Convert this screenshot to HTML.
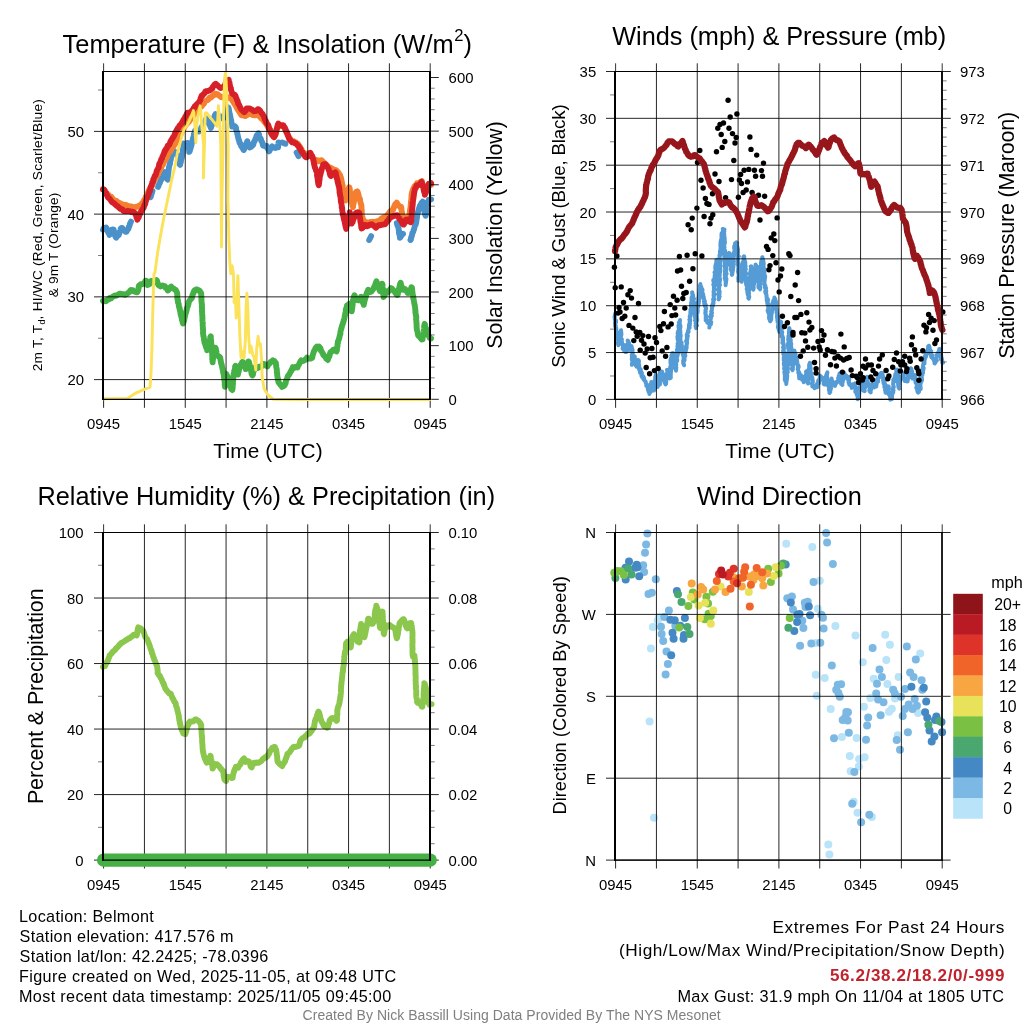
<!DOCTYPE html>
<html><head><meta charset="utf-8"><title>Belmont Meteogram</title>
<style>html,body{margin:0;padding:0;background:#fff;}svg{display:block;}text{font-family:"Liberation Sans",sans-serif;}</style>
</head><body>
<svg style="will-change:transform" width="1024" height="1024" viewBox="0 0 1024 1024">
<rect width="1024" height="1024" fill="#fff"/>
<g id="p1">
<path d="M103 229.8L103.7 228.3L104.5 228L105.4 227.6L106.2 227.5L106.6 228.3L107.2 230.1L107.5 230.6L108.1 232.4L108.5 232.9L109.1 233.6L109.5 235L109.6 234.1L110.2 233.8L110.6 232.5L111.2 231.2L111.7 229.8L112.3 229.4L113.7 229.7L113.9 230.9L114.2 231.7L114.6 233.3L114.7 234.3L115 235.7L115.4 236.2L115.7 237.2L116.2 237.6L116.9 236.4L117.7 235.8L118.8 234.9L119.2 233.5L119.5 232.7L119.9 231.5L120.3 230.9L120.6 229.5L120.8 228.4L121.4 227.9L122.3 227.9L122.9 229.2L123.6 229.8L124.5 230.2L125.3 231.8L126.1 231.9L126.7 231.6L127.1 230.1L127.8 229.5L128.5 228.5L128.8 226.9L129.2 226.4L129.9 224.5L130 223.5L130.5 222.7L131 221.6" fill="none" stroke="#4a90c9" stroke-width="5.9" stroke-linejoin="round" stroke-linecap="round"/>
<path d="M150.6 197.2L152.5 191" fill="none" stroke="#4a90c9" stroke-width="5.9" stroke-linejoin="round" stroke-linecap="round"/>
<path d="M158.1 186.9L158.4 186.2L158.8 184.8L159.6 183.3L159.9 182.8L160.2 181.5L160.9 180.5L161.4 179.2L161.6 178.1L162.2 177.9L162.8 176.8L163.3 175.7L163.7 174.2L164.5 173.7L165 172.1L165.3 173.3L165.6 175L166 176.2L166.6 176.4L166.8 177.9L167 178.9L167.7 179.5L167.7 178.3L167.8 178.1L167.8 176L167.9 175.4L168 173.8L168.3 173.6L168.4 171.8L168.6 170.4L168.7 169.3L168.8 169.1L168.9 167.5L169.3 165.9L169.4 165.8L169.9 163.7L170.1 163.5L170.1 162L170.3 160.6L170.8 159.7L171 158L171 157.8L171.3 156.2L171.4 155.7L171.7 153.5L171.9 152.7L172.6 151.9L173.6 151.6L174.6 151.5L175.2 152.3L175.7 153.3L176.5 154L177 154.8L177.5 156L177.8 157.6L178.3 158L178.7 159.1L178.9 160L179.3 161.2L179.2 163.1L179.6 164.2L180.1 164.9L180 163.6L180.4 162.8L180.8 162.4L181 160.4L181.4 159.2L181.5 158.6L182 157L182 156.5L182.3 155L182.5 153.7L182.6 153.2L182.8 151.8L182.7 150.1L183 149.2L183.2 147.9L183.4 146.9L183.2 145.8L183.6 145.1L183.7 143.5L184.7 143.9L185.8 143.5L186.7 143.2L187.7 143L187.8 144.2L188.2 144.8L188.3 146.4L188.4 147.7L188.8 148.2L189 149.7L189.2 151L189.2 151.9L189.7 151.1L190 150L190.5 148.7L190.9 146.9L191.1 146.5L191.5 145.2L191.6 143.8L192.1 142.7L192.1 141.8L192.5 140.9L192.6 140L192.9 138.9L193 138L193.5 136.9L193.9 135.6L193.9 134L194.4 133.4L194.7 131.7L195.1 130.5L195.9 130.6L196.7 130.8L197.7 131.1L198.7 131.4L199.4 130.2L200.3 129.4L201.1 129.3L201.4 127.4L202.2 126.3L202.5 126.2L203.2 124.5L203.5 123.5L204 123L204.8 122L205.3 121.1L205.7 120.1L206.3 118.5L206.7 119.6L207.4 120.8L207.9 122.1L208.6 122.4L209 123.7L209.6 124.9L210 125.5L210.4 126.7L210.8 128L211.1 127.4L211.6 125.7L211.9 124.8L212.1 124L212.5 123.2L212.8 121.4L213 120.4L213.1 119.5L213.6 118.8L214 117.7L214.6 115.9L215.1 115L215.5 114.1L215.8 116L216.4 116.1L217 117.1L217.9 119L218.5 118L219.4 117.3L220 116.7L220.9 116.5L221.6 117.5L222.4 118.5L223.3 118.3L223.5 117.4L224 116.1L224.8 115.3L225.4 114.4L225.6 112.7L226.2 112.3L226.6 110.8L227.3 109.8L227.8 109L228.4 107.4L228.5 108.4L228.9 108.8L228.9 110L229.3 111.9L229.3 112.3L229.7 113.6L230 115.4L230.3 116.2L230.3 116.6L230.6 118.1L230.8 119.5L231.2 120.5L231.4 122.1L231.3 122.5L231.9 124.1L232.1 124.6L232.2 126.5L233.2 126.4L234.5 125.9L235.2 126.7L235.7 127.1L236.1 128.3L236.1 129.4L236.3 130.6L236.9 131.8L237.2 132.4L237.2 133.7L237.6 134.8L237.9 136.3L238.2 137.8L238.5 138.9L238.6 139.5L239.2 140.6L239.3 141.8L239.7 143.2L240.3 143.4L240.9 144.9L241.1 146.1L241.9 146.8L242.2 147.5L243 148.8L243.8 150L244.2 148.8L244.7 147.9L245 146.9L245.4 146.3L246.1 144.9L246.3 143.8L246.8 143L246.9 142.1L247.3 141.2L247.7 143.2L248.4 143.7L248.7 145.1L249 146.2L249.6 147.5L250.1 147.2L251.1 146.8L252 145.9L253.1 144.8L253.3 144.3L253.6 143.4L254.1 141.7L254.6 141.1L255.1 139.9L255.4 139L256.1 137.8L256.4 136.3L257.1 135.1L257.8 134.5L258.4 133.2L258.8 134L259.1 134.7L259.3 135.8L259.8 137.4L260.4 138.5L260.8 138.7L260.9 139.9L261.3 140.7L262 141.9L262.5 143.1L262.8 144.8L263.2 145.7L264.3 146L265.3 146.3L266.7 145.9L267.1 147.4L267.6 148.5L268.2 149L268.7 150.6L269.1 151.3L269.8 150.2L270.2 149.2L271.1 148.6L271.4 147.3L272.2 146.4L273 146.9L274.2 147.4L275.2 148L275.9 147.7L277.3 147.2L278.1 147.3L278.2 145.5L278 145.2L278.4 143.6L278.5 142.5" fill="none" stroke="#4a90c9" stroke-width="5.9" stroke-linejoin="round" stroke-linecap="round"/>
<path d="M282.2 142.5L285.4 143.8" fill="none" stroke="#4a90c9" stroke-width="5.9" stroke-linejoin="round" stroke-linecap="round"/>
<path d="M296.6 152.5L298.5 156.2" fill="none" stroke="#4a90c9" stroke-width="5.9" stroke-linejoin="round" stroke-linecap="round"/>
<path d="M369.2 240L371.1 236.2" fill="none" stroke="#4a90c9" stroke-width="5.9" stroke-linejoin="round" stroke-linecap="round"/>
<path d="M396.8 223.1L397.2 224.6L397.4 225L397.7 226.1L398.3 227.1L398.6 228.3L398.7 229.7L399.1 231L398.9 231.8L399.1 233.6L399.5 234.7L399.7 235.7L399.9 236.9L399.9 237.7L400.8 236.7L401.5 235.4L402.2 234.6L403 233.8" fill="none" stroke="#4a90c9" stroke-width="5.9" stroke-linejoin="round" stroke-linecap="round"/>
<path d="M410.5 240L410.9 239.4L411.1 237.5L411.6 236.9L411.7 235.8L412.1 234.8L412.3 233.1L413 232.2L413.2 231.6L413.7 229.8L414.1 229.3L414.3 228.2L414.6 226.8L414.9 225.6L415.6 224.7L415.9 223.6L416.1 223L416.4 221.1L416.5 220.5L416.5 218.8L417 218.1L416.9 216.9L417.1 216.2L417.4 214.3L417.8 213.2L417.9 212L418.4 211L418.6 209.9L418.8 209.4L419.1 208L419.5 206.9L420 205.5L420.5 204.7L421.2 204.4L421.5 202.6L422.4 202.2L422.8 201.6L423.3 202.4L423.3 203.7L423.7 204.5L423.6 205.5L423.9 206.9L423.9 208L424 209L424.5 210.5L424.5 212L424.7 212.3L424.8 213.3L425.1 214.5L425.6 215.7L425.6 215.5L426.1 214.1L426.3 213L426.4 212.2L426.8 211.2L426.9 210.2L427.1 208.6L427.5 207.7L427.7 206.3L427.9 205.5L427.8 204.7L428.1 202.9L428.2 201.5L428.4 201.1L428.8 199.7L430 199.7L431.1 199.4" fill="none" stroke="#4a90c9" stroke-width="5.9" stroke-linejoin="round" stroke-linecap="round"/>
<path d="M103 189.1L103.8 189.5L104.5 190.7L105.1 191.7L105.9 192.4L106.7 192.9L107.6 194.6L108.3 194.7L109.3 196.2L110.2 196.4L111.2 196.8L112 197.8L112.5 198.4L113.5 199.9L114.3 200.3L115.5 200.7L116.4 200.9L117.2 201.7L118.4 202.5L119.3 203.2L120.4 203.3L121.6 204.1L122.5 204.4L123.6 205.1L124.8 204.8L126 204.9L126.9 205.8L127.9 205.8L129 206.3L130.4 206.5L131.5 206.5L132.6 207L133.6 207.2L134.8 207.5L135.8 206.9L136.8 206.7L138.1 206.7L139.2 205.5L140 205.3L140.8 204.5L141.8 203.5L142.5 203.4L143.1 201.8L143.7 201.5L144.1 200L144.8 199.4L145.4 198.4L145.7 196.9L146.2 196.4L147 194.5L147.2 193.6L147.7 192.9L148.4 191.6L148.6 190.7L149.3 189.9L150 189L150.4 187.9L151.1 186.3L151.7 186.2L152.3 185.2L152.7 183.8L153.2 183.1L153.7 181.4L154.3 180.5L154.9 179.4L155.3 178.5L155.8 177.7L156.3 177.2L157 175.4L157.4 174.6L157.9 173.3L158.6 173.3L159 171.7L159.4 170.3L160.1 169.5L160.8 168.3L161 168.2L161.7 166.3L162.2 165.1L162.7 165.1L163.3 163.8L163.6 162.4L164.1 161.8L164.7 160.8L165.2 159.2L166 159.1L166.5 157.9L167.1 156.8L167.4 155.6L168.1 154L168.5 153.3L169.1 152.8L170 151.5L170.6 151.2L171.2 149.5L171.6 148.4L172.2 147.5L173 147.3L173.7 145.9L174.3 145.3L174.7 144.2L175.6 143.3L176.1 142L176.4 141.3L177.1 140.4L177.9 138.9L178.2 138.5L178.9 136.7L179.3 135.7L180.1 135.4L180.4 134.4L181.3 133.3L181.6 132.1L182.1 130.6L183 130.3L183.4 129.6L183.9 128.5L184.6 126.8L185 125.9L185.7 125.4L186.4 124.3L187.1 123.9L187.9 122.5L188.7 122.1L189.3 121.3L190.1 120L190.8 118.5L191.5 117.8L192 117.6L192.8 116.3L193.7 115.5L194.3 114.6L195.1 114L195.6 112.9L196.4 111.7L197.3 111L197.9 110.4L198.8 109.2L199.4 108.3L200.1 107.7L200.8 106.6L201.6 106.2L202.4 105.3L203.3 103.8L203.9 103.7L204.7 101.9L205.3 101.5L206.1 100.5L207 100.2L208.1 99.7L208.7 98.7L209.8 97.4L210.8 97.6L211.5 96.9L212.5 95.8L213.7 95.5L214.3 94.5L215.4 93.7L216.2 94L217.4 94.2L218.4 95.2L219.1 95.7L220.4 96.4L221.3 97.2L222.7 97.4L223.5 97L224.6 97.8L225.8 97.1L227 98L228.3 97.2L229.2 98L230.3 98.2L230.9 98.3L232 99.5L232.5 100.9L233.5 101.6L233.8 102.7L234.4 103.7L235 104.1L235.6 105.8L236 105.9L236.6 107.1L236.9 108L237.5 109.1L238.1 110.1L238.9 111.1L239.4 112L239.9 112.8L240.5 113.7L241.4 115.2L242.2 115.4L243.6 115.4L244.7 116.1L245.5 116.1L246.4 115.1L247.5 115L248.3 114.2L249.5 114.1L250.5 114.1L251.5 114.1L252.6 115.1L253.8 114.6L254.9 115.4L256.3 115.2L257.2 114.7L258.4 115L259.1 115.7L260 117.1L261.1 117.4L261.6 118.7L262.4 118.9L263 119.8L263.8 120.9L264.4 121.8L265 122.4L265.7 123.5L266.3 124L267 125.3L267.7 126.6L268.3 127.7L268.9 128.9L269.4 129.3L270.2 130.1L270.6 131.6L270.8 132.9L271.7 133.7L272.1 134.9L272.4 135.6L273.2 136.4L274.2 135.7L275 135L275.9 134.1L276.1 132.3L276.3 131.6L276.5 131L276.9 129.6L277.2 128.6L277.4 126.7L277.8 126.4L277.9 125.1L279 124.9L280.1 125.6L280.9 126L282.3 125.9L283.4 126.8L283.9 127L284.4 128.3L285.1 129.3L285.5 129.7L285.8 130.9L286.6 132L287 132.7L287.3 134.1L288 135.6L288.4 136.2L288.8 137.4L289.4 138L290.4 138.9L291.2 140.5L291.6 140.8L292.9 141.9L293.9 141.3L294.9 142.3L295.8 142.5L296.6 143.3L297.7 143.6L298.5 144.9L299.2 146L299.5 147.2L300.3 147.1L300.7 148.6L301.5 149.3L302 150.3L302.8 151.8L303.3 152.6L304.4 152.8L305.1 154.4L305.8 154.9L306.4 155.3L307.6 154.9L308.3 154.1L309.2 153.4L310 155.1L310.9 156L311.7 156L312.6 156.8L313.4 158.4L314.4 159.1L315.2 159.8L316.3 160L317.1 160.1L318.1 161.2L319.2 161.2L320.2 160.4L321.5 160.3L322.3 161L323 162.2L324.1 162.5L324.8 163.4L325.5 164.3L326.3 164.7L327.2 166.3L328.1 166.3L329.2 167.9L330 167.5L330.9 167.9L332 168.5L333 169.1L334.2 170.2L335.3 170L336.3 170.5L337.1 171L337.6 171.9L338.6 172.7L339 174.2L339.8 174.7L340.2 175.7L340.6 177L341.1 178.5L341.3 178.7L341.2 180.6L341.8 181.4L341.9 182L342.1 184.2L342.5 185.2L342.7 185.7L342.5 186.7L342.9 188.4L343.2 189.6L343.3 190.8L343.4 191.7L343.4 193L343.6 194.3L343.9 194.8L343.9 195.8L344.3 197.5L344.4 197.9L344.9 199.5L345.2 200.2L345.6 200.4L345.7 199.7L346.2 198.8L346.4 197.5L346.4 196.1L346.9 195.5L346.9 193.7L347.3 193.3L347.6 191.8L348.1 191.4L348.2 189.3L348.6 188.7L349.1 187.3L349.4 187.5L349.5 188L349.8 189.3L349.9 190.3L349.8 192L350 193.3L350.3 193.6L350.3 195L350.6 196.7L350.6 197.3L350.8 199L350.9 199.1L351.1 200.6L351.7 202.3L352 203.5L352.3 203.9L352.3 205.7L352.8 205.8L353 207.3L353.1 206.3L353.2 204.8L353.4 204.1L353.8 202.7L353.9 201.6L353.9 201.2L354.2 199.6L354 198.5L354.3 197.9L354.4 196.2L354.8 194.7L354.8 194.4L355.6 192.6L356.1 191.9L357.3 191.3L357.7 192.4L357.9 192.8L358.4 194.3L358.5 195.5L358.8 196.1L359 197.7L359.7 198.7L360 199.1L360 200.7L360.5 202.4L360.6 202.7L360.9 204.1L361.3 204.8L361.4 206.6L361.5 207.8L361.5 208.4L361.5 209.6L361.8 210.4L361.7 212.3L361.8 212.7L361.9 214.3L362.1 215.9L362.4 217.1L362.4 217.2L362.7 218.7L363.4 219.7L363.7 220.7L364.3 222.1L365.4 222.6L366.5 222.2L367.6 222.7L368.6 222.8L369.7 222.2L370.6 221.9L371.7 222.3L373 221.7L374.1 222.4L375.2 221.6L376.5 221.9L377.7 221.1L378.6 221.7L379.7 221.3L380.2 219.9L381.1 218.9L382.2 218.6L383 217.5L384 217.2L384.9 217.2L386.2 216.1L387 216.1L387.6 214.9L388.2 213.8L388.9 213.3L389.8 212L390.2 211.2L391.4 210.5L392.3 210L393.3 209.6L393.4 208.1L393.9 207.5L394.4 205.9L394.6 205.5L395.3 204.1L396 203.9L396.7 202.6L397.2 203.4L397.9 205.1L398.2 205.2L399.1 205.9L399.9 206.7L401.1 206.8L401.3 208L401.5 208.3L401.4 209.9L401.8 211.4L401.8 212.2L402.1 213.2L402.1 214.1L402.5 215.9L402.6 216.5L403.2 218.2L403.2 218.4L403.8 220.4L404.3 218.8L405.3 218.4L406.1 217.8L407.1 217.1L408.3 217.2L409.2 217.8L409.5 216L409.4 215.1L409.7 213.9L409.7 212.6L410 212.2L409.9 210.7L410.3 209L410.5 208L410.5 207.3L410.7 205.9L410.7 205.1L410.8 204L411 202.6L410.9 201.7L411.2 200.1L411.4 199.6L411.4 197.8L411.5 196.6L411.5 195.8L411.6 194.7L411.9 193.1L412.1 192L412.5 191.7L412.8 189.9L413.2 189.1L413.7 187.8L414.1 187.7L414.5 186.4L415.1 185.8L416 185L417 183.4L418.1 183.9L418.9 183L420.1 182.2L421.1 181.6L421.9 181L422.1 182.9L422.3 183.3L422.8 184.4L422.9 185.4L423.3 187.3L423.8 188.4L423.8 189.4L424 190.2L424.4 191.1L424.8 192.5L424.9 193.9L425 193.4L425.7 191.7L426.1 190.5L426.6 189.8L426.7 188.9L427.2 187.2L427.7 186L428.1 185.1L428.5 184.9L429.1 184.2L430 183.9L431.1 185" fill="none" stroke="#f57f31" stroke-width="5.9" stroke-linejoin="round" stroke-linecap="round"/>
<path d="M103 189.5L104 189.7L104.8 190.7L105.2 191.8L105.7 192.8L106.3 193.4L106.9 195.2L107.3 195.6L108 197.4L108.5 197.8L109.3 198.4L110.1 199.4L110.6 200.1L111.5 201.6L112.2 202.2L113.2 202.8L114 203.2L114.7 204L115.9 205L116.7 205.8L117.6 206.2L118.7 207.3L119.4 207.9L120.4 208.9L121.4 208.9L122.4 209.4L123.1 210.8L124 211L125.1 211.2L126.5 211.1L127.7 210.8L128.7 211.1L129.8 211.1L131.1 211.8L132.1 211.6L133 211.8L134.2 212.6L134.9 212.8L135.4 214.1L135.7 214.9L136.2 215.6L136.5 217.4L136.9 217.9L137.4 219.7L137.7 218.6L138.3 218L138.9 217L139.1 215.4L139.6 214.9L140.3 213.1L140.6 212.2L141.2 211.5L141.9 210.3L142.3 209.5L143 208.6L143.7 207.7L143.9 206.6L144.4 204.9L144.9 204.6L145.3 203.6L145.5 202.1L145.8 201.3L146.3 199.6L146.8 198.6L147.2 197.5L147.6 196.5L148 195.7L148.3 195.2L148.9 193.3L149.1 192.4L149.5 191.1L150 190.9L150.2 189.3L150.4 187.8L150.8 186.9L151.4 185.7L151.4 185.5L152 183.5L152.3 182.3L152.7 182.2L153.2 180.8L153.3 179.4L153.6 178.8L154.2 177.7L154.6 176.1L155.2 175.9L155.7 174.6L156.1 173.5L156.4 172.2L156.9 170.6L157.2 169.8L157.7 169.2L158.3 167.9L158.7 167.4L159 165.6L159.1 164.4L159.5 163.3L160 163L160.6 161.5L160.9 160.8L161.1 159.5L161.9 158.6L162.3 157.2L162.5 156.5L163 155.5L163.7 154L163.9 153.6L164.5 151.7L164.8 150.6L165.5 150.3L165.8 149.3L166.8 148.2L167.2 147.1L167.8 145.6L168.8 145.4L169.2 144.7L169.7 143.7L170.4 141.9L170.7 141L171.3 140.4L171.8 139.2L172.4 138.7L173 137.2L173.6 136.7L174.1 135.7L174.7 134.3L175.2 132.7L175.7 131.9L176.1 131.6L176.6 130.2L177.4 129.2L177.8 128.2L178.6 127.6L179.1 126.5L179.8 125.2L180.7 124.6L181.3 123.9L182 122.6L182.5 121.7L183 120.9L183.5 119.7L184.1 119.2L184.7 118.1L185.4 116.5L185.9 116.2L186.6 114.4L186.9 113.7L187.6 112.7L188.7 112.8L190.1 112.7L190.9 112.2L191.8 110.7L192.6 110.7L192.9 109.7L193.6 108.2L194.5 107.7L194.8 106.3L195.8 105.4L196.5 104.7L197.6 103.6L198.4 103.3L198.8 102.3L199.5 101.4L199.7 100.9L200.5 99.8L200.6 98L201 97.5L201.6 95.7L202.3 95.7L203.2 94.1L203.8 94.1L204.7 93L205.4 91.5L206.4 91.1L207.2 91.3L208.5 90.7L209.4 90.4L210.4 90L211.5 88.8L212.3 88.6L212.8 86.8L213.6 86L214.2 85L214.9 84.2L215.7 83.7L216.6 84.5L217.3 85.2L218 85.9L218.8 86.6L220.1 87.7L220.9 88.1L222.2 87.3L223.2 87.2L224.1 87.2L224.5 85.8L225.1 85.2L225.3 84L225.9 82.7L226.2 81.4L226.6 80.2L227.7 80.5L228.7 79.8L228.9 81.7L229.5 82.6L229.5 83.3L229.8 84.6L230 85.7L230.3 87.4L230.9 88L230.9 89.6L231.2 90L231.4 91.2L231.9 92.4L232.1 93.5L232.8 93.9L233.8 94.7L234.8 94.8L235.5 95.9L236 97.3L236.5 98.5L236.9 99.9L237.1 100.3L237.7 101.2L238 102.8L238.3 104L239.1 104.8L239.6 106.1L239.9 106.8L240.5 108.1L241.1 109.1L241.8 110.1L242.6 110.7L243.1 110.9L243.8 112.1L244.5 112.2L245.3 111L246 110.1L246.6 108.5L247.4 108.4L248.4 108.5L249.5 108.4L250.6 109L251.4 109.4L252.7 109.9L253.7 111.2L254.7 111.1L255.7 111L256.8 110.4L257.8 109.3L258.5 109.3L259.5 110.2L260.2 110.8L260.7 111.9L261.7 113.3L262.4 113.7L262.9 114.9L263.4 115.6L264 116.7L264.6 118.5L264.7 119L265.5 120.6L265.9 120.8L266.3 122.6L266.8 123.2L267.3 124.2L268.1 124.8L268.6 126.2L269 127.5L269.2 128.7L269.7 128.8L270 130.4L270.6 131.3L270.9 132.4L271.6 133.9L272 134.8L273 135L273.6 136.7L274.2 137.2L274.4 136.4L275.1 135.6L275.2 134.3L275.6 132.9L275.9 132.6L276.2 131.6L276.4 129.8L276.8 128.6L277 128.3L277.4 127L277.5 126L277.9 124.5L278.3 123.5L279.3 124.5L280.3 125.3L281.1 125.1L282.5 125.2L283.5 125.4L283.9 126.9L284.7 127.4L285.1 128.4L285.5 129.6L285.9 130.3L286.4 132.2L287 132.5L287.5 134.4L287.7 134.5L288 135.6L288.5 136.6L288.8 137.9L289.5 139.6L290.3 139.9L290.9 140.9L291.6 141.6L292.3 142.3L293.7 142.3L294.7 143.1L295.8 143.1L296.4 144L297.3 145L298.3 146.2L298.9 146.2L299.2 147.9L300.1 148.7L300.6 149.1L301.1 151.1L301.9 152L302.5 152.3L302.9 153.1L303.7 154.6L304.6 155.6L305.1 156.5L305.7 157.2L306.4 157.4L307.4 156.8L308.4 155.4L309.1 154.6L309.9 154.2L310.4 152.7L311 154.3L311.4 155L312 155.8L312.3 157.3L313 158.6L313.3 159.5L313.3 160.4L313.8 162L313.8 162.3L314.1 164.2L314.3 164.8L314.7 166.7L314.7 166.8L315.2 168.3L315.7 169.1L316.1 170.8L316.4 171.3L317 172.5L317.1 173.5L317 175.2L317.2 176.6L317.5 176.9L317.5 178.2L317.9 180L317.8 180.5L318 182.2L318.2 182.4L318.3 183.9L318.8 185.3L318.9 184.3L319.2 182.5L319.1 182L319.5 179.9L319.6 179.1L319.7 178L319.8 176.5L320.1 175.7L320.5 174.3L320.7 173.3L320.8 172.9L321.3 171.4L321.3 170.3L321.7 169.7L322 168L322.6 166.5L322.7 166.3L323.2 164.5L324.1 164.2L325.5 164.1L326.2 165.6L326.7 165.9L327.6 167.2L328 168.2L328.6 168.7L328.8 170.3L329.4 171.3L329.7 171.7L329.7 173.3L330.2 175L330.3 175.3L330.8 175.9L331.8 174.8L332.5 174.6L333.4 173.9L334.4 172.9L335.3 172.4L335.8 173L335.9 174.8L336.2 175.2L336.4 176.8L336.8 178.4L337.3 179.5L337.3 179.6L337.5 181.2L338 182.3L338 183.3L338.4 184.7L338.7 186L338.9 186.4L339.2 187.7L339.3 188.9L339.5 189.8L339.5 191L339.6 192.8L339.9 193.3L340 195.2L340.2 195.5L340.5 197.1L340.7 197.6L340.7 199.5L341 200.8L340.8 201.2L341 202.2L341.5 203.8L341.6 204.7L341.8 205.9L341.7 207.4L342.2 207.8L342.2 209.5L342.2 210.3L342.4 211.3L342.6 212.8L342.9 213.5L342.8 214.8L343.3 215.8L343.5 216.9L343.9 218.4L343.9 219L344.3 220.6L344.7 221.2L344.8 223L345.1 223.6L345.3 225.5L345.5 226.2L345.8 227.1L346.2 228.9L346.2 227.7L346.6 226.6L346.6 226.2L347 225L347.2 224L347.5 222.1L347.5 221.4L348 220.7L348.1 219.3L348.4 218L348.6 216.7L349.1 216.3L349.2 214.7L349.7 214.1L349.8 212.1L350.2 214.2L350.3 214.3L350.6 215.8L350.8 217.2L350.9 217.8L351.1 219L351.2 220.8L351.5 221.2L351.5 222.5L351.8 223.6L352 222.4L352.7 222L352.9 220.6L353.6 219L354 218L354.3 217.4L354.8 216.1L355.1 215.3L355.5 214.3L355.9 213L356.5 212.6L357.8 212.2L359 212.8L359.3 213L359.5 214L359.5 215.5L359.6 216.6L359.9 217.3L360.1 218.5L360.3 220.4L360.3 220.7L360.5 222.2L360.9 223.1L361.1 225.2L361.2 226.1L361.3 227.4L361.6 228.5L362.1 228.1L362.7 228L363 226.4L363.9 225.2L364.8 224.9L365.8 225.1L366.8 226.3L367.8 225.9L368.8 225.5L369.6 224.7L370.6 224.9L371.8 224.2L372.4 224.8L373.2 225.3L374.2 226L375.1 227L375.8 227.7L376.6 227.2L377.7 225.9L378.7 225.2L379.8 225.1L380.7 225.3L381.9 224.6L383.1 224.5L384.1 224.1L385 224.2L385.9 223.2L386.7 221.9L387.3 221.1L388.1 220.4L388.7 220L389.3 218.4L390.4 217.5L391.1 217.2L392.1 216.6L393.1 216.3L394.3 215.5L395.4 215.4L396.3 215.6L397.2 215.3L397.8 216.7L398.8 217.8L399.3 218.2L399.8 219.5L400.7 220.1L401.3 221.2L402 222.5L402.4 223.6L402.9 224.2L403.6 224.6L404 224.2L404.4 222.9L405.2 221.4L405.4 220.8L406 219.8L406.9 219.4L407.7 220.2L408.6 221.4L409.9 221.7L410.7 222.2L411.3 220.9L411.4 219.8L411.2 218.3L411.3 217.1L411.5 216.7L411.7 215.7L411.8 213.9L411.8 212.9L412 211.9L411.9 210.9L412.2 209.3L412.3 207.9L412.2 207L412.5 206.7L412.6 204.9L412.8 203.7L412.6 203.2L412.9 201.9L413 201L413.1 199.8L413.4 198.7L413.5 197.4L413.8 195.8L413.8 195L414 194.2L414.2 192.1L414.4 192L414.7 190L415 188.8L415.6 188.4L416 187.4L416.2 186.2L416.7 185.4L417.9 185.2L418.7 184.9L420 184.4L420.6 182.9L421.6 182L422.2 183.9L422.4 185L422.8 185.5L422.9 186.4L423.5 187.6L423.6 188.9L423.7 189.9L424 191.5L424.3 192.2L424.8 193.5L424.9 194.7L425 194.2L425.5 193.5L425.9 192.4L426.4 190.8L426.9 189.6L427.2 188.6L427.2 187.5L427.8 187.3L427.9 185.6L428.4 184.9L428.8 183.7L430 183.8L431.1 183.1" fill="none" stroke="#d61f26" stroke-width="5.9" stroke-linejoin="round" stroke-linecap="round"/>
<path d="M103 300.9L104.2 300.7L105.2 301.3L106 301.1L107 300.3L107.9 299.3L109 299.4L109.8 298.1L111 298.4L112 297.3L113.2 296.4L114.1 296.1L114.9 295.4L116 295.8L117 295.2L118.3 294.5L119.3 293.8L120.2 293.7L121.6 294.1L122.6 294.4L123.8 294.2L125 294.8L125.9 294.2L127 294L128.1 292.9L129.1 292.1L129.6 291.9L130.2 290.7L130.9 290L132.1 290.1L133.1 290.4L134 291.3L135 291.6L136.2 292.3L137.2 292.2L137.6 291.5L138.1 290.7L138.5 288.8L138.6 288.2L138.7 286.8L139.1 285.4L139.7 285.3L140.8 284.2L141.9 284.4L142.9 283.7L144.2 283.9L144.8 282.9L145.1 281.4L145.5 280.8L146.1 280.8L146.2 281.9L146.7 283.3L147.2 284.1L147.5 285L148.6 284.6L149.7 284L150 282.9L150.6 281.3L151.2 281L151.9 280.9L152.6 281.2L153.4 282.1L154.4 281.2L155.4 280.7L156.4 280L156.9 280.5L157.3 281.8L157.6 283.5L158.2 283.8L158.4 285.1L159.2 285.5L160.5 286.4L161.5 285.9L162.5 285.5L163.7 285.9L165 286.1L165.4 287.7L166.4 287.7L167.1 288.5L167.8 290.4L168.6 289.9L169 288.6L169.6 288.1L170.4 287.2L171.2 286.6L172.3 288L173.3 288.4L174.2 289L174.8 289.6L175.7 289.8L176.3 290.9L176.8 292.3L177.2 293.2L177.3 294.9L177.4 295.4L177.2 296.4L177.3 297.5L177.5 299.4L177.9 300L178 301.5L178 302.5L178.6 303.7L178.8 304.5L178.8 306L179.1 307.1L179.6 307.8L179.6 309.5L180 309.7L180 310.8L180.5 312.7L180.5 313.8L181 314.7L181 315.7L181.2 316.3L181.8 318.1L181.9 319.5L182.1 320.5L182.6 320.9L182.6 322.1L182.9 323.5L183.2 323.4L183.4 322.8L183.8 321.2L184.1 320.6L184.3 319.5L184.6 317.9L184.9 316.3L185.2 315.3L185.3 314.9L185.6 313.5L186.1 312.4L186.2 311.3L186.6 310.5L186.7 309.1L187.1 307.7L187.6 306.9L187.8 306.1L188.3 304.6L188.5 303.6L188.7 302.7L189 301.4L189.4 300.8L190.2 299.9L191.1 298.4L191.8 298.3L192.3 296.4L192.3 295.6L192.7 294.3L193 293.7L193.6 292.9L193.7 291.6L194.7 290.2L195.6 290.3L196.2 289.5L197.3 289.4L198.6 290.2L199.3 290.3L199.9 291.2L200.3 292.2L201 292.9L201.3 294.4L201.2 295.4L201.5 296.8L201.3 298.4L201.6 299.6L201.4 299.9L201.5 301.6L201.6 302.1L201.8 304.1L202 304.5L201.8 306.3L202 307.2L201.9 307.7L202.1 309.2L201.9 310.9L202.2 311.9L202.1 313.1L202.1 314.3L202.3 314.8L202.4 316.6L202.3 316.9L202.5 318.1L202.4 319.2L202.4 320.4L202.5 321.6L202.8 322.8L202.7 323.8L202.7 324.7L202.7 325.9L202.9 327.6L202.8 328.7L203.1 329.4L203.1 330.9L203 332.5L203 333.3L203.3 334.9L203.3 335.9L203.7 336.8L203.8 337.6L203.9 338.5L204.1 340.3L204.4 340.7L204.5 342.6L205 343.5L205.1 344.2L205.5 345.5L205.9 346.5L206.4 348.1L207.1 348.7L207.2 350.3L207.5 349.5L207.6 348.4L208.1 347.4L208.2 346.3L208.3 344.9L208.6 344L208.8 342.4L209.2 341.6L209.6 340.8L209.9 339.8L210.2 339L210.3 337.2L210.8 336.3L210.8 338L210.7 339.3L211.1 340.2L211.2 341.6L211.1 342.4L211.3 343.9L211.6 345L211.6 346.2L211.7 347.1L211.7 347.5L211.7 349L211.8 350.7L212 351.6L212.1 352.8L212.1 353.2L212.3 355.1L212.2 356L212.3 356.7L212.4 358L212.2 359.2L212.5 360.2L212.6 362.2L212.6 361.3L212.8 360.5L213 359.3L213.1 357.5L213.1 356.6L213.5 355.5L213.6 354.1L213.6 353.2L214 352.6L214.1 351L214.2 350.1L214.4 348.6L215.4 347.8L215.9 348.8L215.8 349.4L216.3 351L216.4 351.4L216.6 353.2L216.8 354L217 355L217.6 355.7L218.4 356.5L219.5 356.7L220 357.4L220.3 357.6L220.3 359.2L220.7 360.1L220.8 361.3L221.1 363L221.2 364L221.7 364.4L221.9 366.2L222.2 366.9L222.3 368.1L222.8 369.4L222.8 370.3L223 371L223.3 373L223.6 374.2L223.7 374.6L223.9 375.7L224 377.6L224.3 378.6L224.3 379.9L224.5 380.6L224.6 381.2L224.7 382.8L224.8 384.1L224.7 384.6L225.1 385.8L225 386.7L225.1 386L225.4 384.4L225.4 383.3L225.5 382.2L225.4 380.8L225.6 380.5L225.8 378.6L226 378.3L226 376.3L226 375.1L226.2 373.9L226.5 374.4L227.1 376.1L227.6 376.6L228 377.8L228.5 378.6L228.6 379.7L229.2 380.6L229.3 382.3L229.8 382.9L229.8 384.1L230.1 385.4L230.7 386.9L231.1 387.1L231.2 388.9L232 389.7L232.3 390L232.3 389.8L232.6 388.6L232.7 386.8L232.5 385.6L232.8 385L233 383.9L233 382.8L233 381.5L233 380.6L233.1 379.6L233.4 377.8L233.3 376.6L233.6 375.9L233.6 374.1L234 373.6L234.1 372.1L234.4 370.7L234.5 370.1L235 369.1L235.1 367.8L235.1 366.5L235.6 365.8L235.6 366.2L236 368L236.3 368.6L236.7 370.5L236.8 370.6L237.2 372.1L237.6 373L238 374.6L238.1 372.9L238.6 371.9L238.8 370.7L238.8 370.2L239.1 369.3L239.4 367.3L239.6 366.5L240.3 366.1L240.7 364.5L241.4 364.3L242.1 362.3L242.7 361.8L243.4 363.4L243.8 364.6L244.3 364.9L244.4 366.6L245 366.7L245.4 368.1L245.7 369.1L246 369L246.3 368.3L246.9 367L247.2 366L247.3 365.6L247.8 364L247.8 363L248.3 362.4L248.5 361.5L249.1 362.3L249.2 364.2L249.7 364.5L249.7 365.6L250.4 366.9L250.6 368.7L250.8 369.1L251.3 370.6L251.2 371.8L251.5 372.5L251.6 374.1L252.2 375.1L252.4 375.5L252.4 375.3L253 374.7L253.1 372.9L253.4 372L253.9 370.6L254.2 370.1L254.5 369L254.7 367.5L255.7 367.3L257 367L257.9 367.8L259 366.7L259.9 366.8L261 366.7L262.2 366L262.8 364.3L263.6 364L264.8 364.1L265.5 364.8L266.5 365.8L267.4 366.5L268.1 364.9L268.9 364.2L269.6 363.4L270.3 362.3L271 361.6L271.9 361.6L272.9 360.3L273.7 360.9L274.3 361L275.1 362.4L275.8 362.7L276 364.5L276.3 365.8L276.1 366.2L276.3 367.2L276.7 368.8L276.8 369.7L276.9 370.9L276.8 372.4L277.2 372.8L277.2 374.5L277.2 375.4L277.4 376.3L277.6 377.9L278 378.6L277.9 379.8L278.3 380.8L278.4 381.9L279.2 383.2L279.7 383.6L280.5 385L281.4 385.3L281.9 386.9L282.9 386.1L283.8 386.2L284.7 385.1L285.1 383.8L285.6 383.4L285.8 381.4L286.3 380.3L286.4 380L286.9 378.9L287.3 377.9L287.9 376.1L288.3 375.5L289.1 374.9L289.5 373.7L290.2 372.5L290.7 371.3L291.4 371L291.7 369.5L292.5 369L292.8 367.1L294.2 368L295.2 367L296.5 367.4L297.5 367.5L298 365.9L298.5 365L298.9 364.7L299.7 363L300 362.2L300.6 361.2L301.2 360.3L302.6 361.1L303.5 360.7L304.9 360.1L305.6 359.3L306.2 358.9L307 357.7L307.6 358.1L308.5 358.7L309.6 358.4L310.6 358.6L311.8 358.1L312.3 357.6L312.5 355.8L312.9 354.7L313.1 353.9L313.4 352.9L314 351.4L314.4 350.3L315 350.1L315.4 348.3L315.9 347.6L316.9 346.6L317.9 347.1L318.9 346.5L319.4 347.1L319.9 348.2L320.5 348.4L320.9 350.3L321 350.7L321.7 351.5L322.3 352.7L322.9 353.5L323.4 355.3L324 355.5L324.8 356.4L325.5 357L326.3 358.7L327.3 359.4L327.9 360L328.2 358.6L328.8 357.3L329.3 356.5L329.5 355.7L329.7 354.8L330.2 353L330.8 351.9L331.7 351.5L332.4 351L333.3 349.6L334.4 349.5L335.5 350.2L336.5 351.4L336.9 350.4L337 348.5L337 347.6L337.4 346.7L337.5 346.1L337.5 344.3L337.9 342.9L337.8 342.1L338.2 341.1L338.5 340.2L339 338.7L339.3 337.9L339.5 337.3L339.8 335.4L340 334.8L340.4 333.8L340.4 332.1L340.5 331.4L340.9 329.9L341.1 328.9L341.5 328.1L341.7 327.3L342 325.8L342.5 324.4L342.8 323.9L343.1 322.6L343.7 321L343.7 320.4L344.1 319.4L344.5 317.7L344.6 316.8L344.7 316.3L345.2 315L345.1 314L345.6 312.5L345.8 311.3L345.8 309.8L346.1 308.6L346.3 308.3L346.7 307.3L347 305.6L347.7 305L348.6 304.3L349.2 303.8L349.8 304.4L350.2 305.2L350.3 306.6L350.8 308.4L351.2 308.8L351.6 309.9L351.7 311.3L352 309.9L352.1 309.1L352.2 307.8L352.4 306.7L352.5 305.4L352.7 303.8L352.7 303L352.7 302.2L353 300.1L353.2 300L353.6 298L353.7 296.8L354.2 296.3L354.5 295.3L354.6 295.6L355.1 296.9L355.7 298.1L355.8 299.1L356.8 300.1L357.3 300.1L358.1 300.2L359.1 300.2L359.7 299.3L360.5 297.9L361 296.8L361.6 298L361.8 299.3L362 300.2L362.5 301.8L362.9 302.5L363.5 303.8L363.8 304.8L363.7 303.5L364.2 302.7L364.4 301.6L364.8 299.9L365.2 298.7L365.4 297.7L365.4 296.6L366.1 296.4L366.1 294.7L366.7 294L366.9 292.6L367.4 291.9L367.7 290.9L368.2 289.8L369 291L369.5 292.1L370.3 292.1L371.4 291.4L372.3 290.2L373 289.5L373.7 288.1L374.2 287L374.5 286.3L375.2 285.5L375.3 284.8L375.6 283.3L376.1 282.5L376.5 281.3L376.7 281.7L377 283.4L377.5 284.4L377.6 285.1L378.2 286.4L378.4 287.3L379.1 288.1L379.2 289.3L379.8 290.9L380 290L380.4 289.1L380.8 287.8L381.1 286.8L381.7 286.3L381.7 285.4L382.1 283.7L382.6 284.6L382.6 285.3L382.5 286.7L382.6 287.3L382.8 288.3L382.9 290.3L383.1 291.1L383.2 292.2L383.1 293.5L383.3 294.8L383.6 295.5L383.6 297L383.8 296.3L384.4 296L384.8 294.7L385.3 293.7L385.6 292.4L385.9 291.5L386.6 291.3L387.8 292.3L388.5 291.3L389.1 290.6L389.8 289.7L390.5 289.3L391 288.1L392 288.6L392.7 290L393.4 290.3L394.2 291.4L395.2 292.1L395.5 293L396.3 294.1L397 295L397.6 295L397.8 294.3L398 292.9L398.4 291.9L398.5 291.1L398.9 289L399.2 288.2L399.3 287.1L399.7 286.3L399.9 284.7L400.1 284.1L400.6 282.8L400.5 283.2L400.9 283.7L401.1 285.4L401.6 286.3L401.8 287.4L401.9 288.9L402.3 289.7L403.4 289.9L404.3 289L405.2 289.2L406 290.4L406.7 291.2L407.2 292.1L407.8 293L408.4 293L409.2 291.6L409.8 290.9L410.3 290L410.9 288.7L411.4 288.2L411.5 287.1L412 287.9L411.9 289.1L412.2 289.4L412.1 291.5L412.5 291.9L412.5 292.9L412.7 294.7L412.9 295.2L413.3 297L413.2 298.2L413.6 299.2L413.8 300.5L414.1 301.5L414.1 302.5L414.4 303.7L414.6 304.9L414.8 305.4L414.9 306.4L415.1 307.4L415.2 308.7L415.3 310.2L415.5 311.7L415.4 312.8L415.7 313.7L415.9 315.1L415.9 315.8L416.3 316.5L416.2 318.3L416.1 319.4L416.4 320.9L416.3 322.1L416.4 322.7L416.6 323.3L416.6 325.1L416.6 326.5L416.6 327.2L416.8 328.7L416.8 329.4L417.1 330.7L417.5 331.5L417.7 332.7L417.8 333.7L418.2 335.5L419 336.2L419.6 336.6L420.3 337.8L421.2 338.8L421.8 339.6L422.6 339.3L422.5 337.9L422.7 336.6L423.3 336L423.4 335.1L423.8 333.7L423.8 332.6L423.9 331.5L424 329.9L424.1 329L424.2 327.5L424.1 326.3L424.4 326.1L424.5 324.4L424.7 323.9L424.9 324.4L425.2 325.7L425.5 326.8L426 328.4L426.1 329.1L426.4 329.7L427.1 331.3L427.4 332.2L427.4 333.3L428 335L428.6 335.5L428.9 336.1L429.5 337.3L429.8 338L431.1 338.5" fill="none" stroke="#45b045" stroke-width="5.9" stroke-linejoin="round" stroke-linecap="round"/>
<line x1="103.6" y1="63.3" x2="103.6" y2="71.5" stroke="#333" stroke-width="1"/>
<line x1="103.6" y1="399.4" x2="103.6" y2="407.8" stroke="#000" stroke-width="1" stroke-opacity=".85"/>
<line x1="144.43" y1="71.5" x2="144.43" y2="399.4" stroke="#000" stroke-width="1" stroke-opacity=".85"/>
<line x1="144.43" y1="63.3" x2="144.43" y2="71.5" stroke="#000" stroke-width="1" stroke-opacity=".85"/>
<line x1="144.43" y1="399.4" x2="144.43" y2="407.8" stroke="#000" stroke-width="1" stroke-opacity=".85"/>
<line x1="185.25" y1="71.5" x2="185.25" y2="399.4" stroke="#000" stroke-width="1" stroke-opacity=".85"/>
<line x1="185.25" y1="63.3" x2="185.25" y2="71.5" stroke="#000" stroke-width="1" stroke-opacity=".85"/>
<line x1="185.25" y1="399.4" x2="185.25" y2="407.8" stroke="#000" stroke-width="1" stroke-opacity=".85"/>
<line x1="226.07" y1="71.5" x2="226.07" y2="399.4" stroke="#000" stroke-width="1" stroke-opacity=".85"/>
<line x1="226.07" y1="63.3" x2="226.07" y2="71.5" stroke="#000" stroke-width="1" stroke-opacity=".85"/>
<line x1="226.07" y1="399.4" x2="226.07" y2="407.8" stroke="#000" stroke-width="1" stroke-opacity=".85"/>
<line x1="266.9" y1="71.5" x2="266.9" y2="399.4" stroke="#000" stroke-width="1" stroke-opacity=".85"/>
<line x1="266.9" y1="63.3" x2="266.9" y2="71.5" stroke="#000" stroke-width="1" stroke-opacity=".85"/>
<line x1="266.9" y1="399.4" x2="266.9" y2="407.8" stroke="#000" stroke-width="1" stroke-opacity=".85"/>
<line x1="307.73" y1="71.5" x2="307.73" y2="399.4" stroke="#000" stroke-width="1" stroke-opacity=".85"/>
<line x1="307.73" y1="63.3" x2="307.73" y2="71.5" stroke="#000" stroke-width="1" stroke-opacity=".85"/>
<line x1="307.73" y1="399.4" x2="307.73" y2="407.8" stroke="#000" stroke-width="1" stroke-opacity=".85"/>
<line x1="348.55" y1="71.5" x2="348.55" y2="399.4" stroke="#000" stroke-width="1" stroke-opacity=".85"/>
<line x1="348.55" y1="63.3" x2="348.55" y2="71.5" stroke="#000" stroke-width="1" stroke-opacity=".85"/>
<line x1="348.55" y1="399.4" x2="348.55" y2="407.8" stroke="#000" stroke-width="1" stroke-opacity=".85"/>
<line x1="389.38" y1="71.5" x2="389.38" y2="399.4" stroke="#000" stroke-width="1" stroke-opacity=".85"/>
<line x1="389.38" y1="63.3" x2="389.38" y2="71.5" stroke="#000" stroke-width="1" stroke-opacity=".85"/>
<line x1="389.38" y1="399.4" x2="389.38" y2="407.8" stroke="#000" stroke-width="1" stroke-opacity=".85"/>
<line x1="430.2" y1="63.3" x2="430.2" y2="71.5" stroke="#333" stroke-width="1"/>
<line x1="430.2" y1="399.4" x2="430.2" y2="407.8" stroke="#000" stroke-width="1" stroke-opacity=".85"/>
<line x1="94" y1="379.6" x2="430.2" y2="379.6" stroke="#000" stroke-width="1" stroke-opacity=".85"/>
<line x1="94" y1="296.87" x2="430.2" y2="296.87" stroke="#000" stroke-width="1" stroke-opacity=".85"/>
<line x1="94" y1="214.13" x2="430.2" y2="214.13" stroke="#000" stroke-width="1" stroke-opacity=".85"/>
<line x1="94" y1="131.4" x2="430.2" y2="131.4" stroke="#000" stroke-width="1" stroke-opacity=".85"/>
<line x1="98.1" y1="338.23" x2="102.6" y2="338.23" stroke="#444" stroke-width="0.7"/>
<line x1="98.1" y1="255.5" x2="102.6" y2="255.5" stroke="#444" stroke-width="0.7"/>
<line x1="98.1" y1="172.77" x2="102.6" y2="172.77" stroke="#444" stroke-width="0.7"/>
<line x1="98.1" y1="90.03" x2="102.6" y2="90.03" stroke="#444" stroke-width="0.7"/>
<line x1="430.2" y1="399.3" x2="438.8" y2="399.3" stroke="#000" stroke-width="1" stroke-opacity=".85"/>
<line x1="430.2" y1="388.57" x2="434.7" y2="388.57" stroke="#444" stroke-width="0.7"/>
<line x1="430.2" y1="377.85" x2="434.7" y2="377.85" stroke="#444" stroke-width="0.7"/>
<line x1="430.2" y1="367.12" x2="434.7" y2="367.12" stroke="#444" stroke-width="0.7"/>
<line x1="430.2" y1="356.39" x2="434.7" y2="356.39" stroke="#444" stroke-width="0.7"/>
<line x1="430.2" y1="345.67" x2="438.8" y2="345.67" stroke="#000" stroke-width="1" stroke-opacity=".85"/>
<line x1="430.2" y1="334.94" x2="434.7" y2="334.94" stroke="#444" stroke-width="0.7"/>
<line x1="430.2" y1="324.21" x2="434.7" y2="324.21" stroke="#444" stroke-width="0.7"/>
<line x1="430.2" y1="313.49" x2="434.7" y2="313.49" stroke="#444" stroke-width="0.7"/>
<line x1="430.2" y1="302.76" x2="434.7" y2="302.76" stroke="#444" stroke-width="0.7"/>
<line x1="430.2" y1="292.03" x2="438.8" y2="292.03" stroke="#000" stroke-width="1" stroke-opacity=".85"/>
<line x1="430.2" y1="281.31" x2="434.7" y2="281.31" stroke="#444" stroke-width="0.7"/>
<line x1="430.2" y1="270.58" x2="434.7" y2="270.58" stroke="#444" stroke-width="0.7"/>
<line x1="430.2" y1="259.85" x2="434.7" y2="259.85" stroke="#444" stroke-width="0.7"/>
<line x1="430.2" y1="249.13" x2="434.7" y2="249.13" stroke="#444" stroke-width="0.7"/>
<line x1="430.2" y1="238.4" x2="438.8" y2="238.4" stroke="#000" stroke-width="1" stroke-opacity=".85"/>
<line x1="430.2" y1="227.67" x2="434.7" y2="227.67" stroke="#444" stroke-width="0.7"/>
<line x1="430.2" y1="216.95" x2="434.7" y2="216.95" stroke="#444" stroke-width="0.7"/>
<line x1="430.2" y1="206.22" x2="434.7" y2="206.22" stroke="#444" stroke-width="0.7"/>
<line x1="430.2" y1="195.49" x2="434.7" y2="195.49" stroke="#444" stroke-width="0.7"/>
<line x1="430.2" y1="184.77" x2="438.8" y2="184.77" stroke="#000" stroke-width="1" stroke-opacity=".85"/>
<line x1="430.2" y1="174.04" x2="434.7" y2="174.04" stroke="#444" stroke-width="0.7"/>
<line x1="430.2" y1="163.31" x2="434.7" y2="163.31" stroke="#444" stroke-width="0.7"/>
<line x1="430.2" y1="152.59" x2="434.7" y2="152.59" stroke="#444" stroke-width="0.7"/>
<line x1="430.2" y1="141.86" x2="434.7" y2="141.86" stroke="#444" stroke-width="0.7"/>
<line x1="430.2" y1="131.13" x2="438.8" y2="131.13" stroke="#000" stroke-width="1" stroke-opacity=".85"/>
<line x1="430.2" y1="120.41" x2="434.7" y2="120.41" stroke="#444" stroke-width="0.7"/>
<line x1="430.2" y1="109.68" x2="434.7" y2="109.68" stroke="#444" stroke-width="0.7"/>
<line x1="430.2" y1="98.95" x2="434.7" y2="98.95" stroke="#444" stroke-width="0.7"/>
<line x1="430.2" y1="88.23" x2="434.7" y2="88.23" stroke="#444" stroke-width="0.7"/>
<line x1="430.2" y1="77.5" x2="438.8" y2="77.5" stroke="#000" stroke-width="1" stroke-opacity=".85"/>
<path d="M103 398.8L127.5 398.4L136.2 392.8L143.8 389.6L150 387.1L151 374L151.9 349L152.5 324L153.1 299L154 274L155 272.2L157.5 253.5L160 238.5L162.5 224.8L165 212.2L168.1 197.2L171.2 182.2L175 166L177.5 152.5L181.2 138.8L181.7 136.3L184.1 129.3L187.2 125.4L189.5 120.7L191.9 114.4L193.4 110.5L194.6 120.7L195.4 136.3L195.8 142.6L196.6 128.5L197.7 116.8L199.3 109.8L200.1 105.8L200.9 112.9L201.6 124.6L202.8 136.3L203.6 146L203.4 178L204.4 146L204.8 128.5L205.2 112.9L206.7 112.9L209.1 116L212.2 119.9L215.3 123.8L216.9 126.2L217.7 120.7L218.4 105.8L219.2 114.4L220 128.5L220.8 146L221.5 247L221.9 200L223.1 146L223.5 120.7L223.9 97.2L224.7 77.7L225.5 72.1L226.2 81.6L227 105.1L227.8 128.5L228.2 146L227.9 200L228.8 237.5L229.8 262.5L230.8 273.8L232.2 265.6L233.5 275L234.1 302.5L235.4 297.5L236.2 318L237.9 275.6L239.1 312.5L239.8 333.8L241 357.5L242.9 351.2L244.1 358.1L245.4 340L246 308.8L246.9 293.1L247.9 308.8L248.5 333.8L249.8 352.5L251 346.2L252.9 355L254.1 357.5L255.8 370L256.6 350L258.1 336.2L259.1 345L260.4 343.8L261.6 360L262.2 377.5L264.1 388.8L267.9 395L273.5 399.4L300 399.5L430 399.5" fill="none" stroke="#fbe258" stroke-width="2.9" stroke-linejoin="round" stroke-linecap="round"/>
<line x1="103" y1="71" x2="103" y2="400" stroke="#000" stroke-width="2"/>
<line x1="430" y1="71" x2="430" y2="400" stroke="#000" stroke-width="2"/>
<line x1="102" y1="71.5" x2="431" y2="71.5" stroke="#000" stroke-width="1.2"/>
<line x1="102" y1="399.4" x2="431" y2="399.4" stroke="#000" stroke-width="1.4"/>
<text x="84" y="385.1" font-size="14.9" text-anchor="end" fill="#000" >20</text>
<text x="84" y="302.37" font-size="14.9" text-anchor="end" fill="#000" >30</text>
<text x="84" y="219.63" font-size="14.9" text-anchor="end" fill="#000" >40</text>
<text x="84" y="136.9" font-size="14.9" text-anchor="end" fill="#000" >50</text>
<text x="448.6" y="404.8" font-size="14.9" text-anchor="start" fill="#000" >0</text>
<text x="448.6" y="351.17" font-size="14.9" text-anchor="start" fill="#000" >100</text>
<text x="448.6" y="297.53" font-size="14.9" text-anchor="start" fill="#000" >200</text>
<text x="448.6" y="243.9" font-size="14.9" text-anchor="start" fill="#000" >300</text>
<text x="448.6" y="190.27" font-size="14.9" text-anchor="start" fill="#000" >400</text>
<text x="448.6" y="136.63" font-size="14.9" text-anchor="start" fill="#000" >500</text>
<text x="448.6" y="83" font-size="14.9" text-anchor="start" fill="#000" >600</text>
<text x="103.6" y="428.9" font-size="14.9" text-anchor="middle" fill="#000" >0945</text>
<text x="185.25" y="428.9" font-size="14.9" text-anchor="middle" fill="#000" >1545</text>
<text x="266.9" y="428.9" font-size="14.9" text-anchor="middle" fill="#000" >2145</text>
<text x="348.55" y="428.9" font-size="14.9" text-anchor="middle" fill="#000" >0345</text>
<text x="430.2" y="428.9" font-size="14.9" text-anchor="middle" fill="#000" >0945</text>
<text x="62.49" y="52.7" font-size="25.4" letter-spacing="0.054" fill="#000">Temperature (F) &amp; Insolation (W/m</text>
<text x="454.3" y="40.9" font-size="16.6" text-anchor="start" fill="#000" >2</text>
<text x="463.6" y="52.7" font-size="25.4" text-anchor="start" fill="#000" >)</text>
<text x="213.33" y="458" font-size="20.8" letter-spacing="0.158" fill="#000">Time (UTC)</text>
<text transform="translate(42,371.29) rotate(-90)" font-size="13.7" letter-spacing="0.219">2m T, T<tspan font-size="9.0" dy="2.6">d</tspan><tspan dy="-2.6">, HI/WC (Red, Green, Scarlet/Blue)</tspan></text>
<text transform="translate(57.75,297.28) rotate(-90)" font-size="13.7" letter-spacing="0.174" fill="#000">&amp; 9m T (Orange)</text>
<text transform="translate(501.6,348.75) rotate(-90)" font-size="21.2" letter-spacing="0.042" fill="#000">Solar Insolation (Yellow)</text>
</g>
<g id="p2">
<path d="M615 314.4L615.3 313.5L615.1 315.4L614.5 316.8L614.5 317.3L614.6 316.7L615.1 320.5L614.8 318.9L615.5 322.6L615.5 321.2L616.1 320.6L616 322.3L615 322.4L615.3 326L615.1 325.9L615.8 325.9L615.8 325.4L615.3 326.8L616.3 328.4L615.9 329.9L616.2 329.5L616.8 331.9L616.2 332.2L616.7 334.2L617.1 332.6L617.6 332.7L617 336.1L616.7 335.8L616.7 337.3L617.9 337.7L618.1 337.5L618 339.4L618 339.6L618.5 342.4L618.1 342L617.7 343L618.6 344.9L619 342.9L618.5 345.2L618.1 344.5L618.4 342.4L618.4 344.2L618.6 341.3L619.1 343L618.7 340.5L619.5 341.5L620 340.6L619.3 338L619.6 339.1L620.5 335.4L619.5 334.9L619.7 335.1L620.3 333.4L619.6 333.3L620.2 333.1L621.2 332.8L620.6 331.8L621 330.3L621.4 334L621.4 334.9L620.8 334.1L620.5 335.8L620.5 334.3L620.8 335.5L621.1 335.9L620.7 337L621 338.7L620.9 341.5L621.9 339.4L621.4 341L621.7 340.9L622.6 345.2L622.3 343.9L622 343.1L622.6 344.5L623.5 344.9L622.6 348.8L623.5 346.4L623.8 346.7L624.2 351.1L625.2 350.5L625 349.8L625.4 352L626.3 352.1L626.2 349.1L627 351.4L627.2 349.9L627.3 348.8L626.7 347.1L627 344.4L626.7 344.6L627.1 345.5L628.3 343.7L628.4 345.1L628.6 341.8L627.7 340.5L627.8 340.5L628.6 344.1L629.1 343.2L629 345.3L628.4 345.5L629.8 346.7L629.8 346.3L629.2 348.3L629.6 349.1L630.7 348.3L630.5 350.1L631.6 346.6L631.4 346.2L632.5 349.6L631.4 350.5L632.6 350.6L631.8 351L631.5 349.7L632.7 353L632.1 354.9L632 355.5L632.6 353.6L631.8 354.8L631.9 356.7L631.9 356.9L631.8 359.6L632.1 358.6L632.5 361.2L632.3 362.1L632.4 361.3L632.5 360.1L632.4 361.5L631.8 364.8L632.2 363L633.2 362.6L632.8 361.6L633.3 361.9L632.9 360.3L633.3 358.3L634.2 358.5L634.1 358.7L634.8 356.7L634.6 356.4L634.6 357.9L634.7 358.1L634.9 360.5L635.4 361L635.9 359.3L635.5 362.8L636.1 360.4L635.2 362.4L635.3 362.4L635.5 364.9L636.6 366.6L636 365.1L637 362.1L637.6 364.6L637 363.8L637.5 361.2L638.6 361.9L637.7 360L638.3 360.4L638 361.1L638.9 360.7L638.8 363.1L638.2 363.5L639.2 365L638.6 367.7L639.7 368.4L638.9 366.4L639 369.2L639.5 367.4L639.8 371.3L640.7 369.4L640.1 372.8L641 372.6L640.7 370.8L641.9 373L641.4 375.7L642.5 375.9L642.1 376.9L642.3 377.6L643.2 376.3L643.6 379.4L643.5 377L644.1 378.1L643.8 378.6L644 379.5L644.7 380.7L645.6 381.3L645.5 381.6L645.5 381.8L645.7 382.5L646.7 385.4L646.3 385.8L647.7 385L647.9 387.1L647.8 389.4L648 388.8L648.7 391.4L648.5 391.6L649.4 391.5L649.3 391.1L649.1 390.9L649.4 394L649.8 390.9L649.7 392.9L650.9 391.4L650.3 388.9L650.4 389L650.4 388.1L650.7 389.4L651.8 387L650.9 387.8L651.1 384.6L650.8 383.9L651.6 383.6L651.4 382.8L651.3 382L651.6 383.3L651.7 382.6L652.3 384.2L652.9 386.2L653.3 387.5L653.5 389.1L653.2 387.7L654.2 387.8L654 390.5L653.2 390.6L654.5 389L654.4 388.9L653.7 387L654.3 387.4L654.8 386.6L654.6 386.1L654.9 384.5L654.3 381L654.3 381.6L654.4 382.7L655.1 381.1L655.3 380.5L655.2 377L655.8 379.2L655.5 377.5L655.8 374.8L656 375.7L655.3 376.6L656.3 377.1L656.5 381L656.3 379.4L656.4 381.4L657 381.9L656.9 380.5L656.4 382L657.4 383L657.3 382.6L656.7 384.4L657.7 386.9L658.1 384.8L658.2 384.8L658.5 382.7L659.4 382.3L659.9 384.5L658.8 381.8L660 383.1L659.5 379.5L659.3 381.4L659.4 379.1L659.4 378.1L660.6 375.8L660.5 376.5L660.7 376.5L659.8 376.4L660.3 372.1L659.7 373.2L660.4 371.7L660.1 371L660.5 373L660.5 373.3L662 371.5L662.5 374.6L662.8 373.6L662.4 374.7L663.6 376.2L663 376.3L663.2 375.6L663.2 379.5L663.7 380.6L663.9 378.7L664.5 379.2L664.6 383L665.6 383.2L665.5 384.4L666.1 383.7L666 381.5L666.1 382.3L666.3 382.3L665.8 379.1L666.8 378.6L666.2 378.7L666.1 379.5L667.2 376.8L666.9 376.1L666.8 375.7L666.4 374L666.6 376.2L667.1 372.6L667.8 375L667.3 370.7L667 369.8L667.5 370.2L667.6 371.7L668.3 374.9L668.8 373.8L668.6 375L668.8 375L668.6 375.5L670.1 375.7L669.7 378.5L670.5 377.6L669.7 377L670 377L670.8 377.8L670.7 373.7L669.6 375.6L670.8 373.9L670.4 371.2L670.2 374.1L670.9 373L671.1 369.8L670 368.6L670.6 369.9L671.2 369.3L670.9 368.7L670.6 367L670.1 367.1L670.4 366.9L671 363.6L670.4 362.6L671.1 363.6L670.4 360.3L671.1 361.6L670.9 359.3L671.3 357.7L670.9 358.7L671.9 358.6L671.9 357.2L671.4 355.5L672.7 356.6L672.2 353.2L672.8 355.1L673 352.9L673.5 356.3L673 353.5L673.3 355.9L673.9 355.8L674.2 358.7L673.9 357.4L674.7 358.6L674.6 359.1L673.9 362L674.2 363.5L674.6 361.3L674.3 363L675.1 365.9L674.5 364.5L674.7 367.6L674.7 364.7L674.8 366.8L676.1 369.6L676 370.7L676.3 367.2L675.4 368.8L676.3 364.4L676.3 365L676 364L675.8 361.9L676 362.5L677.1 360.8L677.2 360.4L676.4 362L677.2 359.7L676.2 359L676.7 360L676.6 357L677.7 354.9L677.1 357.2L677.7 353.3L676.8 352.6L678.1 352.6L677.9 354.4L677.3 351.1L678.2 351.7L677.3 351.3L677.4 348.7L677 349.8L678.3 348.5L678.3 345.3L677.4 346.3L678.4 347.4L677.6 343.8L677.7 344L678.4 341.9L678.3 343.3L678.3 342.7L678.1 340.1L677.7 339.4L678.3 337.5L677.6 339.4L677.6 335.9L677.4 337L677.8 337.9L678.6 337.1L677.8 332.7L677.6 333.6L678.5 332.6L677.9 331.7L678.5 331.9L678.8 331.8L678.8 328.1L679.1 328L678.8 327.5L679.1 326L678.5 325.4L678.5 327.2L679.1 324.1L679 326L679.2 322.2L679.7 323.1L680 320.1L679.4 322.9L679.9 324.1L678.9 322.4L679 322.8L680.3 325.2L680.3 325.1L680.2 326.2L679.4 328.3L680.5 326.5L680 329.3L679.5 329.1L679.5 329.2L679.7 331.6L680.3 330.8L679.5 332.1L680.4 332.4L680 333.2L680.7 335.4L679.7 334.4L680.3 337L680.7 336L680 339.2L680.4 338.3L680.4 341.8L680.5 341.1L680.7 341.2L681.6 344.4L681 341.9L681.7 342.8L680.8 346.3L681.5 346.8L681.7 347.8L681.9 345.7L681.4 348.1L682.4 350.3L681.8 349.9L682.3 350.3L682.1 350.2L682.7 353.5L682.2 352.6L683.2 355.3L682.5 352.7L683.6 356.9L683 354L683.7 356.2L683.7 357.9L683.7 356.8L683.7 357.9L683.3 361.2L683.9 359.3L683.1 361L683.6 361.7L683.2 362L684.1 365.3L683.2 363.2L684.3 360.3L684.6 359.8L684.3 360.7L684.5 359L684.3 359.3L684.4 358.8L684.5 357.1L684.1 357.1L684.8 354.7L685.3 356.1L685 352.9L685.1 351.8L684.7 352.3L684.8 351.6L685.5 349.2L685.8 348.6L686 350.6L685.8 346.9L685.9 347.4L686.6 345.6L686.6 348.3L686.5 346.7L685.9 346.6L686.4 345.7L687.1 341.8L687 344L686.1 340.9L687.1 339.3L687.4 339L687.4 337.7L687.1 340L686.8 336.6L687.3 336L686.7 334.7L687 336.9L687.9 335.9L687.3 334.7L687.4 332.9L688.2 331.4L688.7 331.4L688.4 332L687.9 331.6L688.8 328.4L689.2 327.1L689.6 327.6L688.9 327.6L689.1 324.4L689.7 323.1L689.9 323.1L689.8 325.3L689.9 323.2L689.6 319.8L689.4 319.6L690.3 319.9L690.2 321L689.8 317.5L690.6 315.9L689.7 316.4L690 315.6L690.2 315.7L690.8 313.4L690.9 313.7L690.3 314.8L690.5 310.8L690.4 312L691.6 311.8L691 308.9L690.5 309.6L691.4 307.6L691.6 307.2L692 307.6L691.1 307.5L690.9 305.2L691.5 303.2L691.1 304.6L691.1 302.9L692.4 300.4L691.5 301.5L692 300.8L692.5 298.2L691.8 297.9L691.5 299.4L692.6 297.9L691.6 297.7L692.7 295.3L692.8 294.5L692.1 292.3L692.2 292.6L692.5 296.2L693.1 297.4L693.2 295.8L693.1 297.3L693.6 298.5L692.9 299.7L694 298.8L694 298.8L693.3 300.5L694.1 304.1L694.2 302.4L694.5 303.2L693.7 306.3L694.3 306.3L694.5 308.2L694.3 308.5L694.7 309.3L694.4 309.6L694.7 308.7L694.3 310.8L694.2 312.7L694.4 310L694.5 314.4L694.9 312L694.6 312.4L695.6 315.6L695.7 316.8L694.9 317L695.4 318.7L696.1 319.8L695.1 320.5L696.3 321.6L695.3 319.4L695.3 319.5L696.4 323.5L696.2 324.3L696.2 323L695.5 323L696.5 324.2L695.9 325.9L695.5 326L696 328.1L696.1 325.7L697 325.6L696.9 325.3L695.8 323.7L696.4 324.3L696.4 323.2L696.7 320.5L697.2 319.2L697.2 318.7L696.1 318L697.2 320.3L696.2 317.6L696.9 318L696.6 316L696.9 316.6L696.8 316.2L696.9 312.5L697.5 312.8L696.7 312.6L696.7 312.4L697.7 311.6L697.6 309.1L697.4 308.4L698.2 306.4L698.3 305.4L697.4 305.5L698.5 305.7L697.9 306.4L697.8 303.9L698.4 304.3L698.8 303.1L698.3 301L698.2 302.3L699 301.1L698.5 299.1L699.4 298.9L698.6 297.6L699.8 295.9L699 295.4L699.8 296.8L699.1 293.2L699.3 293.1L699.8 291.6L699.6 291L700.6 292.3L699.5 292.5L699.6 289.4L700.9 290.2L700.6 288L700 288L700 285.5L700.4 284L700.6 287.3L701.3 286.9L701.4 287.6L700.9 288.9L701.5 290.2L702.5 289.7L702.2 291.8L702.1 290.5L702.7 293.9L702.9 293.9L703.2 294.6L703.1 294.5L702.8 296L702.7 296L703.8 297.9L703.7 296.8L703.6 298.4L704.1 299L704.4 301.9L703.9 301.6L704.9 301.3L704.7 304.4L704.2 303.5L704.6 305.2L705.9 304.9L704.9 305.9L705.7 307.3L705.7 307.7L706.2 308.1L705.6 310.6L705.4 310.3L705.7 311.4L705.3 313.1L705.7 310.2L705.6 312.4L705.3 313.3L705.9 315.2L705.8 314.2L705.7 317L706.7 316.9L705.7 318.8L706 317.2L705.7 320.3L706.7 320.5L706.9 320.6L707.3 322.6L708.2 321.6L709.3 322.9L709 321.6L709.2 321.7L709.8 323.4L710 323.8L709.5 324.5L709.8 325.1L709.3 327.5L709.8 324.8L709.9 325L710.2 324.8L710.6 322.9L711 324.1L709.9 323.2L711.2 322.2L710.2 321.6L711 317.6L710.2 320.5L711.1 316.9L710.5 315.7L710.7 317.4L711 314.1L711.8 315.9L710.9 315.5L711.6 314.3L711.7 313.9L712 312.9L711.2 311.5L711.8 310.9L711.8 310.7L712 307.4L711.8 306.1L712.3 305L712.4 304.6L712.6 305.2L712.9 305.9L712.3 305L713.1 303.1L713.5 303.5L713.3 301L714.3 298.8L713.9 300.3L713.1 299.4L714 299.9L713.6 299.3L713.8 296.5L714.4 293.9L714.1 295.4L713.6 295.6L713.7 293.2L713.9 293.6L713.5 291.5L713.8 291.2L714.4 289.3L714.4 289L713.9 287.6L713.9 289.6L714.2 288.1L713.7 285.4L713.7 285.7L714.2 285.7L713.3 284.6L714.5 283.1L713.4 281.3L713.3 280.1L714.6 281L714.3 280.9L714.6 279.4L714.3 278.7L714.6 277.8L714.7 275.4L714.8 275.6L715.1 273.4L714.5 272.4L715.4 275.1L715.4 272.1L715.8 273L715.6 270.1L715.4 270L715.5 269.2L716.1 270.4L715.3 268.2L715.4 265.6L716.6 266.6L716.8 265.3L715.7 264.3L716.6 265.7L717.2 263L716.5 260.8L717 260.4L716.4 259.8L716.3 263.3L716.5 265.2L716.6 265.6L716.7 263L717.7 264.7L717.8 265.2L716.9 268.4L718 269.5L718.1 267.2L718 270.5L717.9 272.2L717.6 273.1L718.3 270.1L717.3 273.5L718.5 272L717.8 275.4L717.6 276.7L718.1 274.3L718 277.2L718.1 278.4L717.7 279.7L718.1 279.8L718.5 279.7L718.1 282L719 282.8L718.5 281.6L717.8 285.2L718.7 285.4L718.2 285.3L719.2 287L718.7 285.7L718.5 288.8L718.4 288.8L718.8 290.4L719.1 288.8L718 289.5L718.6 291.6L719.2 293.6L718.1 294.2L719.2 295.1L718.9 293.6L719.3 296.5L719.1 297.7L718.7 295.2L719 298.8L718.6 299.4L719.6 296.6L719.2 297.5L719 294.8L718.7 296.2L719.5 294.3L718.5 294.8L719.5 291.8L719.3 293.6L719.7 291.3L719.1 290.8L718.8 288.4L718.8 289.6L719 288.3L719.1 287.3L718.8 284.6L720 285.1L718.8 285.4L719.7 282.6L719.5 282.6L719.4 280.5L718.7 283.6L719.9 280.8L719.5 279.1L719.9 278.9L720.1 279.5L719.9 279.5L719.2 275L719.1 274.7L719 273.4L719.7 275.9L719.5 275.4L720.2 271.1L719.8 271.6L719.1 273.1L719.3 270.7L719.9 271.4L720 268.4L719.7 266.7L720.4 269.2L719.4 264.6L719.5 265L720.4 266.4L720.3 262.2L720.3 264.1L720.1 264.4L719.3 260.2L720.3 262.6L720.2 259.2L720.1 260.3L719.4 257.7L719.7 256.1L720 255.5L719.7 254.6L720.3 253.3L720.4 253.2L719.5 255.3L719.8 254.6L720.8 253.6L719.9 251L719.9 252.2L721 250.2L720.5 248.2L721.1 248L720.9 245.8L720.4 244.7L721.1 245.9L720.4 246.3L720.6 243.7L720.5 242.3L721.6 241.8L720.7 241.6L721 242.5L720.8 242L720.8 240.9L721.8 237.3L721.6 236.8L721.4 235.7L721.7 238.1L722.7 237L721.5 233.7L722.7 232L722.6 232.1L723.2 230.3L723.4 230.9L722.8 228.8L724.1 230.2L723.5 229.5L724.5 229.4L724.1 229.9L723.6 233.2L724.3 231.7L723.5 232.1L724.3 234.5L723.8 234.2L724.3 237L724.6 237.3L723.8 236L724.6 238.2L724.6 237.6L724.7 239.5L724.8 242.4L724.4 239.8L725 242.4L725 242.4L724 245.5L724.3 243.6L724.3 246.1L723.8 246.6L724.5 247.4L724 249L725 250.4L724.4 250.6L724.5 251.5L724 252.8L725.3 252.1L724.7 253.1L724.8 251.8L725.4 253.4L724.3 253.7L724.4 257.4L724.2 255.3L725.1 256.5L724.2 258.9L725 259.4L725.2 258.5L725.4 261.8L724.3 260.2L725 262.5L724.7 261.8L724.9 262.7L725.2 266.4L724.6 266L725.4 265.2L725.5 269.1L725 267.8L725.6 269L725 271.5L725.6 269.9L724.8 270.7L725.1 274.1L725.7 274.6L725.7 275.1L724.7 274.6L725.9 277.1L725 275.8L725.5 276.4L725.4 276L725.3 278.5L724.7 277.9L726.1 281.2L726.1 281.5L725.9 283.3L726 280.7L725.7 282.4L725.8 283.2L725.6 285.2L725.8 281.7L725.7 281.7L726.3 280.3L725.5 280.9L725.2 279.9L726.4 278.8L725.5 277.8L725.9 275.7L725.4 274.8L725.7 275.1L725.7 273.7L725.5 274.1L726.6 273.6L726.2 272.9L725.7 272.4L726.1 270.9L726.4 269.8L726 268.1L725.9 268.4L726.2 267.9L725.7 266.1L726.9 264.9L726.5 265.1L726.2 266.3L726.2 264.6L726.1 261L727.1 261.7L726 260.7L726.7 261.3L726.3 258.5L727.6 259.7L726.6 257.3L727 257.9L727.5 257.8L727.9 255.7L727.9 255.8L728 253.9L728.4 254.7L729 253L729.4 253.2L729.8 256.2L729.5 258.5L729.7 257.1L730.1 259.7L730 258.5L729.9 259.6L730.3 259.7L730 261.6L730.1 261.4L730.8 264.4L730.5 263.5L730.1 263.8L730.2 265.6L730.9 264.5L731.5 266.2L731.5 269.1L731.8 267.3L731.2 270.9L730.7 268.3L731.6 270.9L732.2 272.8L731.8 274.4L731.9 273.3L732.3 273.6L731.9 274.3L732 274.9L732.5 272.4L731.8 271L732.3 271L732.6 271.5L733.2 269.1L732.5 268.9L733.4 266.9L732.8 268L732.3 265.2L733.5 266.5L733 262.8L733.6 264.3L733.5 264.7L733.7 261.7L732.7 260.3L733.3 260.4L733 258.3L733.7 259.2L733.4 260L733.9 255.4L733.6 257.6L733.6 256.4L733.2 254L734.5 254.4L734.4 252L734.2 252.6L734 252.2L734.4 252.8L734.6 249.7L734.1 247.9L735 246.9L734.2 246.3L734.9 248.2L735.4 247.4L735 243.5L736.4 244L736.6 243.4L736.2 242.4L736.5 244.3L737.2 242.9L737.1 243.9L736.6 246.7L737.4 247.8L737.3 247.2L737.1 245.7L738.1 249.7L737.3 250.7L738 249.1L737.8 252.6L737.7 253.3L737.4 251.9L738.1 252L737.6 255.4L737.9 255.9L737.7 254.2L737.9 255L738.8 256.3L738.2 256.4L738.2 258.2L738 257.8L737.7 261.6L738 260.1L737.8 261L737.9 260.8L738.5 262.9L737.8 265.1L737.7 264.2L738.8 264.4L738.3 268L738.8 266.1L738.2 269.2L738.2 270.9L738 271.7L738.5 269.6L738.4 270L738.8 271.3L739.1 273.4L738.3 272.9L738.7 273.5L739.1 274L738.6 276.5L738.3 278.2L738.5 278.5L738.7 277.9L738.5 277.8L738.3 280.8L738.5 279.2L738.3 278L738.7 277L738.7 274.5L738.7 274.3L738.6 275.5L738.8 273.4L739.8 274.1L739.8 273.7L738.8 270.5L738.7 271.3L739.7 269.2L739.4 269.7L739.8 267.2L740.1 266.8L739.9 265.4L739.2 267.5L740.2 267.1L739.3 265.2L739.5 266.6L739.8 268.1L739.5 268.6L740.5 268.9L740.8 271.3L740.7 270.8L740.4 273.3L740.4 271.4L741.2 275.3L740.5 273.1L741.4 276.2L740.3 275.5L740.5 278.5L740.7 279.8L741.5 277.3L741.6 279.3L741.7 281.8L741.1 278.9L742.1 279.5L742.2 279.7L742 279.5L741.9 277.2L741.1 277.4L741.7 275.8L742.5 273.5L742.3 272.3L742.3 274.6L741.8 272.8L742.8 272.3L742.3 270L741.7 269.6L742.2 268.2L742.2 267.1L742.8 268.5L742.3 266L742.8 266L743.5 264.8L742.7 266.2L742.6 264.1L743 264.3L743.4 263.3L743 262.1L743.7 260.5L744.1 261.2L743.3 258.2L743.7 257.1L743.4 256.6L743.7 257.9L744.2 256.3L744.1 258.5L744.2 258.1L743.9 258.3L745.2 262L744.1 262.7L745.4 262.9L744.2 263.4L744.8 263L745 263L745.6 266.4L745.3 268.3L745.4 266.4L744.9 266.7L744.7 270.1L745.8 269L745 271.1L746 273.1L745.1 273.3L746.1 274L745.4 272.5L746.2 273.9L745.6 275.6L745.6 277.5L745.5 275.1L746 278.3L746.5 279.4L746.6 281.1L746.1 280.2L745.7 280.2L746.3 280.1L746.6 281.2L746.3 285.2L745.9 282.3L746.5 283.7L747 283.7L747.3 287.9L747.3 287L746.7 288.8L747.2 288.6L747 289.5L747.6 291.8L748.1 289.9L747.3 291.8L747.8 292.3L747.4 292L747.7 294.3L748.7 296.9L748.7 297.9L748.9 297.3L748.8 295.9L748.8 298.8L748.3 298L749.3 296.8L748.9 295.3L748.5 296.8L748.1 293.2L749.1 293.5L748.3 293.5L748.8 292.4L748.9 291.4L749.2 290.1L748.6 288.4L749.7 289.1L748.7 289.5L749 285.7L749.4 285.5L749.4 285.9L749.1 285.2L749 284.2L749.7 281.6L749.5 280.8L749.7 283.2L749.9 281.8L750.3 278.6L750.7 280.2L749.5 279.9L750 276.4L750.9 277.2L750.7 274.7L750.8 273.6L750.1 274L749.9 274.1L750.2 272.2L751 271.9L751.3 271.8L751.4 270.8L751.5 271.3L750.6 270L750.9 269.2L751.4 268.7L750.7 266.3L751.7 269.4L751.7 266.6L751.6 267.6L751.6 271.3L751 272.5L751.9 270.7L751.3 272.2L752.2 273.6L751.3 272.1L751.3 276L751.5 275.8L751.7 277.2L751.9 275.8L752.6 278.2L752.4 280.1L752.9 277.7L752.1 279L752.4 282.7L752.9 280.1L752.1 284.1L752.9 283.2L752.7 283L753.4 284.8L753.5 286.4L752.5 286.1L752.8 289.1L753.4 286.5L752.9 288.6L753.4 289.7L753.4 288L752.9 288.2L753.4 285.1L753.7 288.2L753.2 284L754.1 283.7L753.6 283.8L753.7 283.3L754.1 284.1L754.8 279.6L754.3 281.7L754.8 281L754.5 279.6L754.2 277.4L754.9 279L755.1 277.4L754.4 276.9L755.1 275.1L755.1 273.7L755.1 273.1L754.5 272.1L755 273.9L755.3 270.6L755.1 269.3L755.4 268.1L755 270.2L755.8 267.7L756 266.4L755.6 264.6L755.9 264.9L756.6 266.6L757 266.6L757.1 268.4L756.1 267.5L756.9 271.6L756.7 271.5L756.9 272.7L756.5 271.9L757.8 271.9L757 271.7L757 273.4L757.9 274L757.6 274.7L758 278.2L758.1 276.3L758.4 280.2L758.3 277.4L758.7 281.4L758.1 279.2L758 281.6L759.1 282.8L759.2 281.9L758.5 284.9L759 284.3L759.2 284.8L758.4 285.9L758.5 287.6L759 287.8L759.5 287.7L759.4 287.5L760.1 289.4L760.2 286.6L759.8 288.5L759.5 285.1L759.3 284.5L760.2 283.5L760.3 284.1L760 283.9L760.1 283.4L760.2 281.3L760.5 280.2L760.5 281.4L760.7 278.8L760.7 280.7L760.4 277.1L760.5 279L760 274.4L760.6 276.2L761.1 274.2L761.4 272.9L761.1 271.6L760.2 270.9L760.3 271.6L761 269.5L761.6 269.5L760.6 267.9L761.5 270.1L760.7 265.7L761.6 265.8L762 266L761.5 264.6L761.8 264.3L761.2 265.2L761 263.8L761 262.6L761.5 262.7L761.3 260.7L762 261.4L763 259.5L762.3 257.2L762.4 258.3L762.5 258.1L763.3 260.7L762.7 262.9L762.7 262L762.7 264L763.7 262.4L763.6 265.4L763.1 264.2L763.4 267.3L763 267.2L763.7 267.1L763.8 269.6L763.3 270.4L763.6 270.8L764.4 269.2L764.4 273.3L763.7 270.2L763.5 274.8L763.4 275.3L763.7 275.4L763.7 273.9L764.6 274.4L764.2 278.5L764.8 279.2L765.2 276.6L764.2 280.4L764.9 278.2L764.7 279.8L764.7 280.1L764.2 284.4L764.7 284.8L764.5 284L764.6 284.5L764.8 286.4L764.8 287.4L765.4 285.7L765.3 288L766.1 288.2L765.2 291.5L766.3 291.3L765.5 289.9L765.6 290.3L765.4 292.8L766 293.8L766 292.4L766.6 295.8L766.5 296.1L766.9 298.7L767.2 298.4L766.7 297.6L766.8 301L766.9 299.5L767.1 299.3L768 299.5L767.6 304L767.2 303.5L767.5 302.8L767.3 303.1L768.3 306.6L768.5 304.5L768.3 306.3L768.3 308L767.9 310.5L767.6 310.4L768.9 310.3L768.6 313L768.2 312.3L769 312.1L769.1 313L769 314.6L769.3 314.3L769.4 315.9L769 317L769.2 319L769.6 319L769.8 318.8L769.6 318.3L770.7 320.6L770.3 321.3L770.8 319.4L770 320.9L770.6 319.4L771.2 319.6L771.4 315.4L770.8 317.8L771.5 314.2L770.7 313.9L770.8 313.5L771.9 313.4L771.5 310.9L771.5 313.7L772.1 310.7L771.9 311.4L772.5 308L772.5 308.1L772.4 306.8L772.4 306.4L772.5 304.3L772.4 305.7L772.4 303.4L773.4 303L773 302L773.9 300.7L773.8 302.9L773.4 300.5L774.6 300.5L774.4 297.5L774.8 298.4L775.3 298.9L775 301.1L775.6 300.7L775.1 302.4L776 301.6L776.1 304.5L775.4 305.1L775.4 303.5L776.1 305.6L775.9 306.8L776.5 308.6L775.4 308.8L776.2 309.1L776.8 309.7L776.5 312.3L776.6 311.5L776.8 313.6L777.2 314.1L777 312.1L777.5 314.9L777.8 316.6L777 315.2L777.1 318.3L777.3 316.2L778.3 318.9L777.4 320.2L778.4 320.2L777.6 321.8L778.2 322.2L779 323.9L778.9 322L778.3 324.3L777.9 327L778.3 324.9L778.5 325.6L779.3 327.6L778.9 327.9L778.3 328.2L779.5 331L779.6 329.6L778.7 329.6L779.3 331.7L779.3 332L779.5 330.7L779.9 329.2L780.2 329.9L779.1 328.1L779.9 327.7L780 326.5L779.7 327.6L779.8 326.5L780.6 325.2L780.2 325.8L780.3 324.8L779.9 322.2L780.8 321.5L781.2 322.4L781 323.6L781.5 325.9L781.5 326.5L781.4 328L781 326.9L781.9 327.4L782.1 328.5L781.1 328.8L782.1 333L781.7 332.7L781.6 334.4L782.2 332.2L781.4 335.2L781.5 336.6L781.9 334.9L782.4 336.1L782.5 336.2L783 337.7L783 337.8L783 341.9L782.6 338.9L782.6 342.1L782.5 342.6L782.4 343L783.3 343.7L783.3 343.2L783.6 344L783.8 348.3L783.9 347.3L783 347.3L783.7 348.7L784 347.9L783.5 351.8L783.7 351.3L783.1 350.5L783.4 354.3L784.2 352.4L784.4 352.5L784 357L783.7 357.7L784.2 354.9L783.8 357.3L783.8 359.3L783.7 360.3L784 358.2L784.4 359.1L784.4 362.7L784.5 362.2L783.8 363.2L783.9 364.5L784 365L784.3 365L784.8 365L784.1 368.9L784.4 369.3L785.2 368.6L784.2 367.9L785.3 368.8L784.8 371.3L784.3 371.8L784.4 372.8L785 373L784.7 373.9L784.8 373.6L784.9 377.4L785.3 378.2L784.7 379.3L785.5 379.4L785.7 379.8L785.3 380.9L785.3 379.7L785.2 381L786 381.4L786.6 381.4L786.2 382.6L786.3 384L786.5 380.3L786 381.7L787.1 378.6L786.6 380.4L786.9 378.2L787 377.9L787.2 375.3L787.3 376.1L786.6 374L786.5 375.8L787.1 372.7L786.7 371.8L786.6 371.4L786.8 373.6L787.8 372.1L787.2 370.1L787.6 370.9L787.7 369L786.9 368.2L787.9 368L786.9 367L787.3 364L788.2 365.2L787.9 362.2L788.1 364.7L788.2 363.1L788.2 362.5L787.9 360.3L788.2 360.8L788.3 358.1L788.5 358.2L788.5 355.8L788.6 357.7L787.6 357.1L787.7 353.7L788 353.1L788.1 355L788.4 353.4L788.1 352.9L788.7 351.7L788.9 351.4L788.2 347.7L788.6 349.9L788.2 348.1L788.9 348.1L787.8 346.1L787.9 343.8L789 344.2L788.8 343.6L788.4 341.8L788.5 343.5L788.9 340.5L788.2 339.6L789.1 339.5L789.1 340.2L788.3 338.9L788.3 338.6L788.5 335.6L789.6 335.2L788.6 336.5L789.2 335.7L788.9 333.3L789.8 332.6L789.9 330.5L789.7 329.6L789.3 328.1L788.9 332.4L789.3 332.7L789.1 331.7L789 333.3L790.1 333.9L789.5 336.4L790.3 336.1L789.3 336.7L789.9 338.9L789.8 338.5L790.3 338.1L790.2 340.1L790.8 340.2L790.2 342.9L789.8 343.1L790.8 342.8L790.5 344.4L791.2 345.1L791.1 343.1L790.6 344.3L791.5 348.1L790.4 347.7L791.1 346.4L790.9 350L791.4 348.9L791.6 349.7L791.4 351L792 352.8L791.9 353.7L791.4 355.6L791.9 355.3L791.4 354L791.8 357.4L792.2 356.3L791.3 357.8L792.4 357.2L792.2 358L791.7 358.4L791.7 360.5L792.7 363.6L791.6 361.8L792.7 362.1L791.9 363.9L791.6 364L792 365.3L792.9 365.6L791.8 369L792.2 369.5L792.5 370.1L792.1 368.3L792.8 369.4L792.6 369.4L793 367L792.5 368.8L792.9 365.4L793.1 364.5L793.4 362.9L793.6 364.2L793 364.9L793 361.3L792.8 361.7L793.9 361.4L793.5 361.2L793.2 358.4L794.1 360.2L794.2 358.3L794.5 356.3L794.8 356.9L794.1 354.8L794.9 353.8L794.1 355.1L794.7 352.9L795 353.6L794.4 350.6L794.4 351.7L795.2 354.2L795.6 353.9L795.4 354.7L795.4 356.6L796.3 357.3L795.6 357.4L796.6 357.5L796.9 359.9L796.9 360.4L796.9 361.4L796.4 361.5L797.3 361.9L796.9 360.5L797.5 364.3L797.1 362.7L797.2 363L798 367.3L798.3 365.6L798.3 365.2L798.7 367L797.7 369L798 368.4L798 369.9L798.8 372.1L798.3 373L798.5 371.4L799.3 372.6L799.1 374.3L799 376L799.2 377L800.1 376.6L799.2 378.3L799.6 377.2L800.9 375L801.8 377.2L802.1 376.5L802.2 378L802.1 379.9L803.4 380.4L803.6 379.2L803.9 379L803.4 380L803.7 382.3L804.4 380.7L804.2 378.9L804.6 378.5L804.6 379.6L805.3 377.7L805.2 378L805.4 375.4L806.1 376.4L806.8 375.8L807 375.7L806.9 374.1L806.1 371.3L806.2 374.8L807.3 374.6L806.7 374.3L806.7 376.2L807.9 375.7L806.7 376L807.2 379.7L808 378.7L807.1 378.1L807.3 381.6L807.8 383.2L808.5 383.2L808 383.5L807.6 379.8L808.3 380.6L807.9 378.8L807.7 380.6L808.7 380L809.2 377.1L808.9 376.1L809.1 377.2L808.2 373.1L808.4 374.6L808.7 371.5L809.5 373.8L809 370L809.7 371.2L808.6 369.5L809.5 371L809.4 369.2L809.1 366.8L810.1 366.6L809.1 366.6L809.2 364.3L809.7 365L810.1 364.7L809.9 362.7L810.4 363.4L810.1 365.6L810.5 367.7L809.9 368.2L810.7 368.3L810 370.8L810.7 368.3L810.3 372.7L810.4 371.2L811.2 373.7L811.1 374.2L810.4 372.4L811.8 376L810.6 373.8L811 378.1L811.1 377.8L812.3 378.5L812.4 377.8L811.5 377.6L812.5 378.7L812.9 381.9L812 383.1L812.1 382.7L812.2 384.6L813.4 385.9L812.3 386.4L813.6 386.9L814 386.7L814.6 388.1L814.4 385.7L815.6 387.3L815.8 385.5L816.6 384.8L817.2 387.3L817 383.8L817.7 383.5L817.8 382.4L818.8 383.4L818.2 380.8L819 383.1L819.4 379.3L819 379.4L819.8 378L819.8 380.6L820.3 375.9L819.6 375.6L820.7 376.8L821 376.5L821.4 377.7L822.3 379.5L823 379.6L823.7 380.4L823.6 378L823.8 382L823.7 382.9L823.6 383.9L824.2 383.7L824.1 382.9L824.5 383.7L824.3 384.6L825.7 384.6L825.8 384.3L825.8 384.4L825.8 380.7L825.2 380.5L825 379L826.4 381L825.7 379.6L826.5 379.3L826.6 377L825.8 377.4L826.2 375.8L826.4 374.7L827.4 372.4L826.9 375.1L827 377.1L827 377.8L827.5 378.8L826.7 376.6L827.1 380.1L826.9 378.3L828 382.1L827.3 380.6L828.1 382.4L828.3 383.5L827.8 382.3L827.6 384.8L828 383.9L829.2 386.2L828.9 387L829 388L828.8 386.2L828.6 386.8L829.1 388.1L828.9 390.3L830.3 391.9L829.5 393L829.5 390.7L829.8 391.2L830.4 390.5L830.6 388.3L831 388.5L831 386.5L831.1 386.5L831.2 388L831.1 385.1L830.3 383.9L831.7 383L831.4 383.9L831.6 381.5L830.9 380.4L832.2 380.8L831.9 380.7L831.6 378.5L831.8 382.3L832.4 383.4L833.2 383.1L833.4 384L834 383L834.9 382.6L835 386L835.5 384.1L836.6 382.8L836.2 382.1L837 382L837.8 381.8L838.5 379.4L838.5 381.8L838.1 377.8L838.7 377.4L839 379.1L838.7 375.9L839.5 375.4L839.4 375.7L839.5 373.4L840.1 374.3L841.1 374.1L840 373.5L841 375.7L841.3 378.1L841.4 375.5L841.6 377.9L840.7 377.3L841.6 378.3L840.6 379.3L841.9 380.9L841.7 380.1L841.4 381.9L841.2 384L841.5 382.7L842.4 384.9L841.4 382.3L842.3 383.5L841.5 382.5L842.7 382L842.1 381.1L842.8 380.9L842.3 380.7L843.5 379.7L843.6 377.4L843.8 375.9L843 376.8L844.1 373.9L843.4 373L844.4 373L844.7 375L845.8 375.8L846 375.4L845.9 377.2L846.7 376L847.5 378.5L847.9 379.3L848.4 377L848.9 377.7L849.3 379.5L848.5 382.3L848.9 380.8L849.1 382.6L848.9 382.2L849.3 384.8L849.5 384.6L850.3 384.6L851.2 386.3L851.1 385.1L851.8 387.9L852.6 384.3L853.8 385.8L855.1 383.4L854.6 384.1L855.3 386L855.2 388.5L855.7 389.2L856.3 387.6L856.4 389L855.3 391.8L855.6 389L856 390.8L857.1 393.9L856.5 393.4L857.3 395.3L857.3 394.8L856.7 394.5L857.7 396.7L858.1 398.7L858.6 396.6L857.5 399.2L858.3 395.5L858.6 395L858.1 394.7L858.7 395.1L858.2 394.6L859.1 392.7L859.3 393.3L858.5 391.2L859.6 391.3L859.7 388.4L860.3 390.1L859.4 387.9L860.6 386.2L860.1 388.4L861 384.8L861 384.5L861.2 385.4L860.7 382.4L861 381.8L861 381.5L861.8 383.4L861.6 384.8L863.1 385.5L862.6 386.8L862.9 385.4L863.3 385.6L863.8 386.9L863.7 390.9L864.5 391.1L864.5 390.3L864.7 390.9L864.2 389.3L864.5 386.5L865.3 387.1L865.5 387.4L865.3 383.9L864.6 384.4L865.8 382.6L865 380.7L865.3 382.7L865.2 380.1L865.7 381.2L866.9 377.6L865.8 380.5L867.1 376.8L866.5 379.1L866.7 379.4L867.2 379.6L866.9 379.6L867.3 380.4L868.2 383.6L867.9 384.7L868.8 383.7L868.7 383.8L869.5 386.1L868.5 385.3L869.6 387L869.8 387.1L870.1 390.2L869.3 390.1L869.7 391.4L870.7 392.4L870.2 388.8L871 389.9L870.5 387.7L871.4 386.6L871.7 386.4L871.5 386.3L872.1 386.8L871.6 386L872.3 384.1L873.5 386.2L874.1 387.5L874.2 385.6L875.4 385.9L875 385L876.1 386.6L876.3 386.4L876.7 383.1L876.3 384L876.2 382.8L876.5 379.8L877.4 379.4L878.2 381.6L877.8 378.1L877.7 378.6L878.6 377.3L879.3 377.3L879.7 374.9L879.1 375.3L880 374L880.7 373.2L880.7 373.6L881.7 374.2L881.6 372.7L882.6 375.4L882.4 372.9L882.4 375.8L882.4 374.2L883.6 378.4L882.6 377.4L883.5 377.5L883 380.1L884.2 379.6L883.4 380.2L883.5 383.3L883.6 381.4L884.7 381.5L883.9 382.1L884.1 384.7L885.2 384.1L884.4 387.2L884.8 386.3L884.5 386.7L885.8 387L885 390.3L886 391.7L885.5 392.7L885.9 390L886.1 391L886.8 387.9L886.4 390.5L886.7 389.2L887.4 386.2L887.5 387.1L888.7 386.6L888.7 388.1L887.9 390.6L888.3 389.1L888.6 392.4L889.4 392.2L888.3 393.8L889.3 395.1L890 393.6L890.1 396.3L889.6 395.3L890 396L890.3 395.7L890.3 399.7L890.9 399.3L891.7 399.3L891 399.1L892 398.6L892 396.9L892.3 394.1L892.2 393.9L892.7 392.1L892.4 392.1L893 391.4L893.2 392.6L893.3 389L893.5 390.6L893.2 389.4L892.5 389.5L893.3 387.1L893.1 387.6L893.8 387.1L893.1 384.2L893.2 382.5L893.4 381.4L894.2 381.4L893.3 379.9L894.3 379.7L894 379.7L894.6 381.1L894 379L895 377.6L895.3 377.9L894.8 377.7L895.4 373.9L895.7 376L895.9 373.9L896 374.7L896.5 371.3L896.3 371.1L897.3 371.7L896.4 371.8L896.4 369.8L897 371.1L897.1 369.4L897.3 373.1L897.8 372L897 374.4L897.9 373.1L898.1 377L897.6 375.3L898 378.3L897.4 376.6L897.6 379.1L897.5 379.2L898 380.5L897.6 382.4L898.9 381.6L898.7 380.9L898.9 383.2L898.8 385.2L898.3 386.3L898.1 383.5L898.6 387.8L899.3 388.6L898.9 387.7L899.1 383.8L899.3 385.6L899.1 384.1L899 382L899.4 382.1L899.6 379.6L899.1 379.8L900.2 380.7L899.7 377.9L900.2 376.8L900.4 378.9L900.3 377L901.6 377.1L902.1 376.4L902.1 376.3L903.4 373.6L903.8 375.9L902.9 375.1L904.3 378.2L903.7 378.1L904.8 380.9L904.8 380.7L905.1 379.1L905.4 380.6L906.5 380.8L906.3 381.2L906.5 380.7L907 381.2L907 380.3L907.5 381.5L907.8 380.6L908 376.9L908.3 375.9L907.9 374.8L908.9 377.6L908.7 374.4L908.9 373.6L909.5 373L909 374.1L909.9 370L910.6 372.1L910.2 371L911.3 369.3L910.9 368.2L911.4 369L911.7 370.9L911.1 369.4L912.2 371.9L911.9 372.2L911.7 374.1L912.1 372.7L911.8 372.3L912.9 375.8L911.8 374.7L912.6 376.2L912.5 378.6L912.7 377.9L913.8 378.3L913.7 376.4L914 376.9L915 375.1L914.7 376.4L914.9 379.3L915.3 377.5L915.3 380.4L915.3 380.7L915.3 379.5L915.6 382.7L915.8 381.2L915.8 382.1L916.9 384.7L917.3 386.4L916.9 387.1L916.3 387.9L916.9 385.8L917.5 389.2L917.1 386.9L917.9 390.4L917.6 392.1L917 389.2L917.2 389.8L918.2 392.7L917.7 390.1L918.1 391.1L919 391.8L918.9 391.1L919.3 388L919.4 386.6L920.7 388.9L920.4 384.9L919.8 384L920.2 385.5L919.9 383.9L920.9 381.2L920.7 383.4L921 381.2L921.6 381.1L921 379.4L922 380.5L922 378.5L921.1 376.2L921.6 377.5L921.1 377.1L922.3 375.2L921.3 375.5L922 374.2L922.4 373.7L922.2 373.8L923.1 372.9L922.7 369.6L922.5 368.6L923.4 369.9L923.3 369.3L923.7 367.9L922.9 367.4L922.9 366L922.9 366.2L923.5 363.1L924.3 361.6L924.5 363.5L923.6 362.8L924.4 362.6L924.6 359.9L925.3 357.7L925.3 357L924.8 356.3L925.9 356.8L925.9 355.3L926.1 356.1L925.5 354.7L926.6 352.9L926.7 352.3L926.6 354.2L927.6 353.7L927.1 351.2L927.9 351.2L927.7 350.9L927.9 350.5L928.2 346.4L928.8 345.7L929 345.7L929.7 348.4L929.7 347.5L929.8 349.3L929.5 351.8L929.5 351.2L929.9 353.4L931.2 350.9L930.8 353.4L931.4 355.2L931.1 356.8L931.1 354.4L932.2 355.1L931.6 357.4L932 356.8L933 358.8L933.1 358.7L933.7 359.2L934.2 361.4L934.7 362.7L934.7 362.5L935.4 362.4L934.6 363.5L935.8 361.8L936 359.2L935.8 360.9L936.8 360.5L935.9 358.8L936.7 356.9L936.4 355.1L937.1 355.8L937.2 354.5L937.9 355.3L938.2 352.2L939 352.3L939.4 354L938.5 351.7L940 350.2L939.7 349.1L939.2 349.1L939.5 350.2L940.3 352.1L940.9 353.4L940.2 355.2L940.8 354.4L941.2 355.7L940.7 356.2L940.7 358.5L940.8 359.3L940.7 356.2L941.6 357.8L941.7 358.2L942.3 361.2L942.3 363L942.9 362.7L942.5 362.8" fill="none" stroke="#559bd5" stroke-width="4.0" stroke-linejoin="round" stroke-linecap="round"/>
<line x1="615.6" y1="63.3" x2="615.6" y2="71.5" stroke="#333" stroke-width="1"/>
<line x1="615.6" y1="399.4" x2="615.6" y2="407.8" stroke="#000" stroke-width="1" stroke-opacity=".85"/>
<line x1="656.43" y1="71.5" x2="656.43" y2="399.4" stroke="#000" stroke-width="1" stroke-opacity=".85"/>
<line x1="656.43" y1="63.3" x2="656.43" y2="71.5" stroke="#000" stroke-width="1" stroke-opacity=".85"/>
<line x1="656.43" y1="399.4" x2="656.43" y2="407.8" stroke="#000" stroke-width="1" stroke-opacity=".85"/>
<line x1="697.25" y1="71.5" x2="697.25" y2="399.4" stroke="#000" stroke-width="1" stroke-opacity=".85"/>
<line x1="697.25" y1="63.3" x2="697.25" y2="71.5" stroke="#000" stroke-width="1" stroke-opacity=".85"/>
<line x1="697.25" y1="399.4" x2="697.25" y2="407.8" stroke="#000" stroke-width="1" stroke-opacity=".85"/>
<line x1="738.08" y1="71.5" x2="738.08" y2="399.4" stroke="#000" stroke-width="1" stroke-opacity=".85"/>
<line x1="738.08" y1="63.3" x2="738.08" y2="71.5" stroke="#000" stroke-width="1" stroke-opacity=".85"/>
<line x1="738.08" y1="399.4" x2="738.08" y2="407.8" stroke="#000" stroke-width="1" stroke-opacity=".85"/>
<line x1="778.9" y1="71.5" x2="778.9" y2="399.4" stroke="#000" stroke-width="1" stroke-opacity=".85"/>
<line x1="778.9" y1="63.3" x2="778.9" y2="71.5" stroke="#000" stroke-width="1" stroke-opacity=".85"/>
<line x1="778.9" y1="399.4" x2="778.9" y2="407.8" stroke="#000" stroke-width="1" stroke-opacity=".85"/>
<line x1="819.73" y1="71.5" x2="819.73" y2="399.4" stroke="#000" stroke-width="1" stroke-opacity=".85"/>
<line x1="819.73" y1="63.3" x2="819.73" y2="71.5" stroke="#000" stroke-width="1" stroke-opacity=".85"/>
<line x1="819.73" y1="399.4" x2="819.73" y2="407.8" stroke="#000" stroke-width="1" stroke-opacity=".85"/>
<line x1="860.55" y1="71.5" x2="860.55" y2="399.4" stroke="#000" stroke-width="1" stroke-opacity=".85"/>
<line x1="860.55" y1="63.3" x2="860.55" y2="71.5" stroke="#000" stroke-width="1" stroke-opacity=".85"/>
<line x1="860.55" y1="399.4" x2="860.55" y2="407.8" stroke="#000" stroke-width="1" stroke-opacity=".85"/>
<line x1="901.38" y1="71.5" x2="901.38" y2="399.4" stroke="#000" stroke-width="1" stroke-opacity=".85"/>
<line x1="901.38" y1="63.3" x2="901.38" y2="71.5" stroke="#000" stroke-width="1" stroke-opacity=".85"/>
<line x1="901.38" y1="399.4" x2="901.38" y2="407.8" stroke="#000" stroke-width="1" stroke-opacity=".85"/>
<line x1="942.2" y1="63.3" x2="942.2" y2="71.5" stroke="#333" stroke-width="1"/>
<line x1="942.2" y1="399.4" x2="942.2" y2="407.8" stroke="#000" stroke-width="1" stroke-opacity=".85"/>
<line x1="606" y1="399.4" x2="942.2" y2="399.4" stroke="#000" stroke-width="1" stroke-opacity=".85"/>
<line x1="606" y1="352.56" x2="942.2" y2="352.56" stroke="#000" stroke-width="1" stroke-opacity=".85"/>
<line x1="606" y1="305.71" x2="942.2" y2="305.71" stroke="#000" stroke-width="1" stroke-opacity=".85"/>
<line x1="606" y1="258.87" x2="942.2" y2="258.87" stroke="#000" stroke-width="1" stroke-opacity=".85"/>
<line x1="606" y1="212.03" x2="942.2" y2="212.03" stroke="#000" stroke-width="1" stroke-opacity=".85"/>
<line x1="606" y1="165.19" x2="942.2" y2="165.19" stroke="#000" stroke-width="1" stroke-opacity=".85"/>
<line x1="606" y1="118.34" x2="942.2" y2="118.34" stroke="#000" stroke-width="1" stroke-opacity=".85"/>
<line x1="606" y1="71.5" x2="942.2" y2="71.5" stroke="#000" stroke-width="1" stroke-opacity=".85"/>
<line x1="610.1" y1="375.98" x2="614.6" y2="375.98" stroke="#444" stroke-width="0.7"/>
<line x1="610.1" y1="329.14" x2="614.6" y2="329.14" stroke="#444" stroke-width="0.7"/>
<line x1="610.1" y1="282.29" x2="614.6" y2="282.29" stroke="#444" stroke-width="0.7"/>
<line x1="610.1" y1="235.45" x2="614.6" y2="235.45" stroke="#444" stroke-width="0.7"/>
<line x1="610.1" y1="188.61" x2="614.6" y2="188.61" stroke="#444" stroke-width="0.7"/>
<line x1="610.1" y1="141.76" x2="614.6" y2="141.76" stroke="#444" stroke-width="0.7"/>
<line x1="610.1" y1="94.92" x2="614.6" y2="94.92" stroke="#444" stroke-width="0.7"/>
<line x1="942.2" y1="399.4" x2="950.8" y2="399.4" stroke="#000" stroke-width="1" stroke-opacity=".85"/>
<line x1="942.2" y1="390.03" x2="946.7" y2="390.03" stroke="#444" stroke-width="0.7"/>
<line x1="942.2" y1="380.66" x2="946.7" y2="380.66" stroke="#444" stroke-width="0.7"/>
<line x1="942.2" y1="371.29" x2="946.7" y2="371.29" stroke="#444" stroke-width="0.7"/>
<line x1="942.2" y1="361.93" x2="946.7" y2="361.93" stroke="#444" stroke-width="0.7"/>
<line x1="942.2" y1="352.56" x2="950.8" y2="352.56" stroke="#000" stroke-width="1" stroke-opacity=".85"/>
<line x1="942.2" y1="343.19" x2="946.7" y2="343.19" stroke="#444" stroke-width="0.7"/>
<line x1="942.2" y1="333.82" x2="946.7" y2="333.82" stroke="#444" stroke-width="0.7"/>
<line x1="942.2" y1="324.45" x2="946.7" y2="324.45" stroke="#444" stroke-width="0.7"/>
<line x1="942.2" y1="315.08" x2="946.7" y2="315.08" stroke="#444" stroke-width="0.7"/>
<line x1="942.2" y1="305.71" x2="950.8" y2="305.71" stroke="#000" stroke-width="1" stroke-opacity=".85"/>
<line x1="942.2" y1="296.35" x2="946.7" y2="296.35" stroke="#444" stroke-width="0.7"/>
<line x1="942.2" y1="286.98" x2="946.7" y2="286.98" stroke="#444" stroke-width="0.7"/>
<line x1="942.2" y1="277.61" x2="946.7" y2="277.61" stroke="#444" stroke-width="0.7"/>
<line x1="942.2" y1="268.24" x2="946.7" y2="268.24" stroke="#444" stroke-width="0.7"/>
<line x1="942.2" y1="258.87" x2="950.8" y2="258.87" stroke="#000" stroke-width="1" stroke-opacity=".85"/>
<line x1="942.2" y1="249.5" x2="946.7" y2="249.5" stroke="#444" stroke-width="0.7"/>
<line x1="942.2" y1="240.13" x2="946.7" y2="240.13" stroke="#444" stroke-width="0.7"/>
<line x1="942.2" y1="230.77" x2="946.7" y2="230.77" stroke="#444" stroke-width="0.7"/>
<line x1="942.2" y1="221.4" x2="946.7" y2="221.4" stroke="#444" stroke-width="0.7"/>
<line x1="942.2" y1="212.03" x2="950.8" y2="212.03" stroke="#000" stroke-width="1" stroke-opacity=".85"/>
<line x1="942.2" y1="202.66" x2="946.7" y2="202.66" stroke="#444" stroke-width="0.7"/>
<line x1="942.2" y1="193.29" x2="946.7" y2="193.29" stroke="#444" stroke-width="0.7"/>
<line x1="942.2" y1="183.92" x2="946.7" y2="183.92" stroke="#444" stroke-width="0.7"/>
<line x1="942.2" y1="174.55" x2="946.7" y2="174.55" stroke="#444" stroke-width="0.7"/>
<line x1="942.2" y1="165.19" x2="950.8" y2="165.19" stroke="#000" stroke-width="1" stroke-opacity=".85"/>
<line x1="942.2" y1="155.82" x2="946.7" y2="155.82" stroke="#444" stroke-width="0.7"/>
<line x1="942.2" y1="146.45" x2="946.7" y2="146.45" stroke="#444" stroke-width="0.7"/>
<line x1="942.2" y1="137.08" x2="946.7" y2="137.08" stroke="#444" stroke-width="0.7"/>
<line x1="942.2" y1="127.71" x2="946.7" y2="127.71" stroke="#444" stroke-width="0.7"/>
<line x1="942.2" y1="118.34" x2="950.8" y2="118.34" stroke="#000" stroke-width="1" stroke-opacity=".85"/>
<line x1="942.2" y1="108.97" x2="946.7" y2="108.97" stroke="#444" stroke-width="0.7"/>
<line x1="942.2" y1="99.61" x2="946.7" y2="99.61" stroke="#444" stroke-width="0.7"/>
<line x1="942.2" y1="90.24" x2="946.7" y2="90.24" stroke="#444" stroke-width="0.7"/>
<line x1="942.2" y1="80.87" x2="946.7" y2="80.87" stroke="#444" stroke-width="0.7"/>
<line x1="942.2" y1="71.5" x2="950.8" y2="71.5" stroke="#000" stroke-width="1" stroke-opacity=".85"/>
<g fill="#000">
<circle cx="728.1" cy="100.2" r="2.7"/>
<circle cx="736.9" cy="114" r="2.7"/>
<circle cx="730.2" cy="117" r="2.7"/>
<circle cx="723.5" cy="123" r="2.7"/>
<circle cx="720" cy="124.5" r="2.7"/>
<circle cx="717.8" cy="128.2" r="2.7"/>
<circle cx="729" cy="128.2" r="2.7"/>
<circle cx="732.5" cy="133.6" r="2.7"/>
<circle cx="721.2" cy="134.5" r="2.7"/>
<circle cx="736.2" cy="137.4" r="2.7"/>
<circle cx="724.8" cy="141.5" r="2.7"/>
<circle cx="735" cy="143" r="2.7"/>
<circle cx="722.2" cy="147.4" r="2.7"/>
<circle cx="699.8" cy="150.5" r="2.7"/>
<circle cx="716.5" cy="151.8" r="2.7"/>
<circle cx="733.8" cy="160.5" r="2.7"/>
<circle cx="697.5" cy="162.4" r="2.7"/>
<circle cx="715" cy="174" r="2.7"/>
<circle cx="701" cy="180.2" r="2.7"/>
<circle cx="719" cy="181.5" r="2.7"/>
<circle cx="731.5" cy="179.6" r="2.7"/>
<circle cx="703.1" cy="188" r="2.7"/>
<circle cx="749.9" cy="137" r="2.7"/>
<circle cx="751" cy="149.4" r="2.7"/>
<circle cx="756.7" cy="155.1" r="2.7"/>
<circle cx="763.5" cy="163.1" r="2.7"/>
<circle cx="748.8" cy="169.4" r="2.7"/>
<circle cx="744.1" cy="170.2" r="2.7"/>
<circle cx="754.4" cy="170.2" r="2.7"/>
<circle cx="761.5" cy="170.6" r="2.7"/>
<circle cx="740.6" cy="174.4" r="2.7"/>
<circle cx="755.6" cy="176.2" r="2.7"/>
<circle cx="762.5" cy="176.2" r="2.7"/>
<circle cx="739.4" cy="180" r="2.7"/>
<circle cx="741.5" cy="183.5" r="2.7"/>
<circle cx="747.5" cy="181.9" r="2.7"/>
<circle cx="746.2" cy="190" r="2.7"/>
<circle cx="743.1" cy="192.5" r="2.7"/>
<circle cx="752.1" cy="192.5" r="2.7"/>
<circle cx="712.5" cy="193.8" r="2.7"/>
<circle cx="758.5" cy="195.2" r="2.7"/>
<circle cx="764.6" cy="196.2" r="2.7"/>
<circle cx="738.4" cy="197.2" r="2.7"/>
<circle cx="725.6" cy="197.8" r="2.7"/>
<circle cx="705.4" cy="198.4" r="2.7"/>
<circle cx="706.9" cy="203.5" r="2.7"/>
<circle cx="709" cy="204.4" r="2.7"/>
<circle cx="696.9" cy="208.1" r="2.7"/>
<circle cx="712.8" cy="214.8" r="2.7"/>
<circle cx="692.2" cy="218.1" r="2.7"/>
<circle cx="704.1" cy="216.5" r="2.7"/>
<circle cx="711" cy="218.1" r="2.7"/>
<circle cx="710" cy="223.8" r="2.7"/>
<circle cx="760" cy="220" r="2.7"/>
<circle cx="777.1" cy="217.9" r="2.7"/>
<circle cx="691.2" cy="229.8" r="2.7"/>
<circle cx="773.8" cy="234" r="2.7"/>
<circle cx="771.2" cy="237.9" r="2.7"/>
<circle cx="774.8" cy="240.6" r="2.7"/>
<circle cx="766.5" cy="246.5" r="2.7"/>
<circle cx="768.1" cy="249.4" r="2.7"/>
<circle cx="772.8" cy="255.6" r="2.7"/>
<circle cx="788.8" cy="253.8" r="2.7"/>
<circle cx="790" cy="255.6" r="2.7"/>
<circle cx="695.2" cy="253.8" r="2.7"/>
<circle cx="701.9" cy="256" r="2.7"/>
<circle cx="776" cy="262.8" r="2.7"/>
<circle cx="770" cy="265.6" r="2.7"/>
<circle cx="616.9" cy="256" r="2.7"/>
<circle cx="614.4" cy="267.2" r="2.7"/>
<circle cx="615.2" cy="287.8" r="2.7"/>
<circle cx="621.2" cy="286.9" r="2.7"/>
<circle cx="630.2" cy="290.6" r="2.7"/>
<circle cx="627.9" cy="294.8" r="2.7"/>
<circle cx="631.5" cy="298.1" r="2.7"/>
<circle cx="623.5" cy="302.5" r="2.7"/>
<circle cx="638.5" cy="303.5" r="2.7"/>
<circle cx="619" cy="307.5" r="2.7"/>
<circle cx="626.2" cy="308.1" r="2.7"/>
<circle cx="620" cy="311.9" r="2.7"/>
<circle cx="624.8" cy="316.2" r="2.7"/>
<circle cx="635" cy="317.5" r="2.7"/>
<circle cx="688.1" cy="224.8" r="2.7"/>
<circle cx="679.4" cy="256.5" r="2.7"/>
<circle cx="687.1" cy="255.2" r="2.7"/>
<circle cx="677.5" cy="271" r="2.7"/>
<circle cx="680.6" cy="270" r="2.7"/>
<circle cx="689.6" cy="281.2" r="2.7"/>
<circle cx="681.5" cy="286.2" r="2.7"/>
<circle cx="686.2" cy="292.5" r="2.7"/>
<circle cx="683.8" cy="293.5" r="2.7"/>
<circle cx="673.5" cy="296.2" r="2.7"/>
<circle cx="682.8" cy="298.5" r="2.7"/>
<circle cx="677.1" cy="300.2" r="2.7"/>
<circle cx="670.2" cy="304.6" r="2.7"/>
<circle cx="674.8" cy="308.1" r="2.7"/>
<circle cx="684.8" cy="308.1" r="2.7"/>
<circle cx="664.4" cy="311.5" r="2.7"/>
<circle cx="675.6" cy="315" r="2.7"/>
<circle cx="671.9" cy="315.6" r="2.7"/>
<circle cx="692.9" cy="268.8" r="2.7"/>
<circle cx="768.9" cy="269.8" r="2.7"/>
<circle cx="781.8" cy="269" r="2.7"/>
<circle cx="797.6" cy="272.5" r="2.7"/>
<circle cx="780.5" cy="276" r="2.7"/>
<circle cx="778" cy="280" r="2.7"/>
<circle cx="795.2" cy="285" r="2.7"/>
<circle cx="779.2" cy="291.9" r="2.7"/>
<circle cx="790.8" cy="296.5" r="2.7"/>
<circle cx="798.6" cy="300.6" r="2.7"/>
<circle cx="806.8" cy="312.8" r="2.7"/>
<circle cx="800.9" cy="314.4" r="2.7"/>
<circle cx="794.9" cy="317.5" r="2.7"/>
<circle cx="782.4" cy="316.2" r="2.7"/>
<circle cx="618.1" cy="313.1" r="2.7"/>
<circle cx="622.2" cy="318.5" r="2.7"/>
<circle cx="629" cy="325.4" r="2.7"/>
<circle cx="632.8" cy="328.1" r="2.7"/>
<circle cx="636.2" cy="331.9" r="2.7"/>
<circle cx="639.8" cy="332.5" r="2.7"/>
<circle cx="642.8" cy="335.6" r="2.7"/>
<circle cx="637.2" cy="336.2" r="2.7"/>
<circle cx="648.5" cy="336.5" r="2.7"/>
<circle cx="633.8" cy="340.6" r="2.7"/>
<circle cx="641.5" cy="340.2" r="2.7"/>
<circle cx="644" cy="344" r="2.7"/>
<circle cx="655" cy="337.8" r="2.7"/>
<circle cx="656.5" cy="342.5" r="2.7"/>
<circle cx="651.9" cy="348.5" r="2.7"/>
<circle cx="647.2" cy="349" r="2.7"/>
<circle cx="640.2" cy="350.2" r="2.7"/>
<circle cx="645.2" cy="353.1" r="2.7"/>
<circle cx="653.1" cy="357.2" r="2.7"/>
<circle cx="650.2" cy="357.8" r="2.7"/>
<circle cx="646.2" cy="367.5" r="2.7"/>
<circle cx="658.1" cy="368.5" r="2.7"/>
<circle cx="654.4" cy="370.6" r="2.7"/>
<circle cx="649.6" cy="373.8" r="2.7"/>
<circle cx="663.5" cy="323.8" r="2.7"/>
<circle cx="659.8" cy="326.5" r="2.7"/>
<circle cx="671.2" cy="324" r="2.7"/>
<circle cx="668.1" cy="326.9" r="2.7"/>
<circle cx="660.9" cy="330.6" r="2.7"/>
<circle cx="666.9" cy="347.5" r="2.7"/>
<circle cx="662.2" cy="350.9" r="2.7"/>
<circle cx="665.6" cy="356.2" r="2.7"/>
<circle cx="787.4" cy="322.8" r="2.7"/>
<circle cx="784.5" cy="326.5" r="2.7"/>
<circle cx="796.8" cy="317.5" r="2.7"/>
<circle cx="809" cy="322.1" r="2.7"/>
<circle cx="811.8" cy="327.5" r="2.7"/>
<circle cx="809.9" cy="330" r="2.7"/>
<circle cx="793" cy="332.5" r="2.7"/>
<circle cx="793" cy="335" r="2.7"/>
<circle cx="801.8" cy="332.8" r="2.7"/>
<circle cx="804.9" cy="333.1" r="2.7"/>
<circle cx="805.5" cy="340.9" r="2.7"/>
<circle cx="821.5" cy="330.6" r="2.7"/>
<circle cx="824" cy="335" r="2.7"/>
<circle cx="822.4" cy="340.4" r="2.7"/>
<circle cx="818" cy="341.5" r="2.7"/>
<circle cx="840.9" cy="334.1" r="2.7"/>
<circle cx="807.8" cy="347.2" r="2.7"/>
<circle cx="813.6" cy="348.1" r="2.7"/>
<circle cx="819.2" cy="346.9" r="2.7"/>
<circle cx="820.2" cy="350" r="2.7"/>
<circle cx="803.2" cy="350.9" r="2.7"/>
<circle cx="827.4" cy="349.8" r="2.7"/>
<circle cx="831.8" cy="351.5" r="2.7"/>
<circle cx="834.2" cy="351.9" r="2.7"/>
<circle cx="844.2" cy="346.9" r="2.7"/>
<circle cx="825.5" cy="355.2" r="2.7"/>
<circle cx="800.5" cy="356.2" r="2.7"/>
<circle cx="834.9" cy="358.1" r="2.7"/>
<circle cx="838" cy="356.2" r="2.7"/>
<circle cx="840.5" cy="358.1" r="2.7"/>
<circle cx="843.6" cy="360" r="2.7"/>
<circle cx="846.8" cy="358.5" r="2.7"/>
<circle cx="849.2" cy="357.5" r="2.7"/>
<circle cx="814.5" cy="362.5" r="2.7"/>
<circle cx="830.5" cy="364.8" r="2.7"/>
<circle cx="836.4" cy="366" r="2.7"/>
<circle cx="816.1" cy="368.8" r="2.7"/>
<circle cx="816.1" cy="373.1" r="2.7"/>
<circle cx="851.1" cy="370" r="2.7"/>
<circle cx="852.4" cy="375.6" r="2.7"/>
<circle cx="856.1" cy="376.2" r="2.7"/>
<circle cx="860.5" cy="373.8" r="2.7"/>
<circle cx="863" cy="366.2" r="2.7"/>
<circle cx="865.5" cy="368.1" r="2.7"/>
<circle cx="865.5" cy="359" r="2.7"/>
<circle cx="858.6" cy="382.5" r="2.7"/>
<circle cx="862.4" cy="380" r="2.7"/>
<circle cx="912.4" cy="336.9" r="2.7"/>
<circle cx="911.5" cy="344.8" r="2.7"/>
<circle cx="928.6" cy="314.4" r="2.7"/>
<circle cx="931.1" cy="318.1" r="2.7"/>
<circle cx="934.2" cy="320.6" r="2.7"/>
<circle cx="929.5" cy="322.5" r="2.7"/>
<circle cx="924" cy="325.2" r="2.7"/>
<circle cx="926.5" cy="327.8" r="2.7"/>
<circle cx="925.9" cy="331.9" r="2.7"/>
<circle cx="933" cy="330.2" r="2.7"/>
<circle cx="942.8" cy="311.9" r="2.7"/>
<circle cx="936.5" cy="340" r="2.7"/>
<circle cx="934.9" cy="343.5" r="2.7"/>
<circle cx="882.3" cy="354.9" r="2.7"/>
<circle cx="879.6" cy="359" r="2.7"/>
<circle cx="896.5" cy="353" r="2.7"/>
<circle cx="904.7" cy="356.2" r="2.7"/>
<circle cx="909.6" cy="358.2" r="2.7"/>
<circle cx="894.3" cy="359.5" r="2.7"/>
<circle cx="898.7" cy="361.7" r="2.7"/>
<circle cx="902.5" cy="361.7" r="2.7"/>
<circle cx="910.2" cy="361.2" r="2.7"/>
<circle cx="914.6" cy="349.7" r="2.7"/>
<circle cx="915.7" cy="354.9" r="2.7"/>
<circle cx="922.8" cy="350.8" r="2.7"/>
<circle cx="921.1" cy="359" r="2.7"/>
<circle cx="868.1" cy="365" r="2.7"/>
<circle cx="871.4" cy="365" r="2.7"/>
<circle cx="878.5" cy="366.1" r="2.7"/>
<circle cx="873" cy="370.5" r="2.7"/>
<circle cx="892.7" cy="367.2" r="2.7"/>
<circle cx="900.9" cy="365" r="2.7"/>
<circle cx="904.7" cy="365" r="2.7"/>
<circle cx="886.1" cy="370.5" r="2.7"/>
<circle cx="900.3" cy="371" r="2.7"/>
<circle cx="906.9" cy="368.8" r="2.7"/>
<circle cx="906.4" cy="371.6" r="2.7"/>
<circle cx="916.8" cy="367.7" r="2.7"/>
<circle cx="918.4" cy="371" r="2.7"/>
<circle cx="842.4" cy="372.1" r="2.7"/>
<circle cx="863.2" cy="377.6" r="2.7"/>
<circle cx="857.7" cy="378.1" r="2.7"/>
<circle cx="875.7" cy="373.8" r="2.7"/>
<circle cx="870.8" cy="377" r="2.7"/>
<circle cx="888.9" cy="375.9" r="2.7"/>
<circle cx="887.8" cy="378.7" r="2.7"/>
<circle cx="918.9" cy="373.8" r="2.7"/>
<circle cx="918.9" cy="380.3" r="2.7"/>
<circle cx="872.5" cy="379.8" r="2.7"/>
</g>
<path d="M615 251.2L615.2 249.8L615.4 248.9L615.5 247.9L615.8 246.8L616.4 245.5L617 245L617.4 243.6L618 243L618.5 241.6L619.3 240.5L620.1 239.9L620.7 238.9L621.6 238.6L622.3 237.6L623.2 236.6L623.8 235.5L624.4 234.6L625.2 233.9L625.8 233.1L626.5 231.9L627.1 231.2L627.4 230.1L628 229.3L628.6 227.8L629.3 226.8L629.8 226.3L630.5 225.3L631.2 224.5L632.1 223.5L632.5 222.3L632.9 221.4L633.3 220.3L633.8 219.6L634.1 218.3L634.5 217.3L635.1 216.5L635.7 214.9L636.1 214.2L636.5 213L637 211.8L637.5 211.2L638 209.8L638.7 209.3L639.2 208L640 207.4L640.6 206.4L641.1 205.1L641.6 204.4L642.3 202.9L642.6 201.9L643.1 201.1L643.7 199.9L644 198.9L644.5 198L645 197L645.3 195.9L645.7 194.4L645.8 193.7L645.9 192.6L645.8 191.2L645.8 190.2L645.9 188.7L646 187.6L646.1 186.4L646.1 185.3L646.4 184.4L646.6 183.6L647 182L647.2 181L647.4 179.7L647.8 179.2L648 177.8L648.1 176.4L648.4 175.4L648.8 174.2L649 173.7L649.6 172.1L650 170.9L650.5 170.6L651 169.3L651.3 168L651.7 167.3L652.3 166.2L652.8 164.8L653.5 164.4L654.1 163.3L654.6 162.2L655.1 161.1L655.7 159.8L656.2 159L656.8 158.2L657.4 157.1L657.9 156.4L658.5 155L658.7 153.8L659.1 152.7L659.5 152.1L659.8 150.7L660.3 150L661.2 149.4L662.4 148.9L663.4 148.2L664.1 147.7L664.9 146.8L665.7 145.7L666.3 145.2L667.1 143.7L667.5 142.7L668.3 142.2L668.8 141.4L670.1 141.4L671.1 141.5L672.1 141.4L673.3 142.4L674.1 143.3L674.9 144L675.9 144.3L676.6 145.1L677.4 146.1L678.2 146.5L678.7 145.9L679.4 144.6L680 143.9L680.8 143.1L681.6 142.1L682.4 140.9L682.8 141.8L683.1 143.3L683.5 144.2L684 145.3L684.2 146.4L684.7 147.7L684.9 148.6L685.4 149.4L685.9 150.7L686.3 151.9L687 152.6L687.5 153.6L688.1 154.7L688.8 155.5L689.8 156.3L690.9 156.8L692 156.3L692.9 156.3L694 155.2L694.9 155L695.8 155.5L696.7 156.5L697.8 157.3L698.5 157.9L699.6 158.2L700.4 159.5L701 160.4L701.7 161L702.5 162.2L703 162.8L703.8 163.7L704 164.7L704.4 165.6L704.7 167L704.9 168L705.4 169.3L705.5 170.7L706 171.8L706.2 172.4L706.5 173.8L706.9 174.5L707.3 176.1L707.8 176.7L708 178.3L708.4 179.2L708.7 179.8L709.3 181.1L709.5 182.6L710.1 183.5L710.4 184.6L710.8 185.7L711.4 186.3L712.3 187.4L713.1 187.6L714.1 188.4L714.9 189.1L715.7 189.9L716.5 190.8L717.4 191.6L718.1 192.4L718.3 193.4L718.5 194.5L718.8 196L718.8 197.1L719.2 197.9L719.3 199.3L719.6 200.6L720.2 201.4L720.8 202.7L721.3 203.6L721.9 204.5L722.9 203.8L723.8 203.1L724.8 203L725.9 202.2L727 202.4L728.3 202.1L729 202.2L729.6 203.4L730.1 204.4L730.7 205.7L731.5 206.4L732.2 207.4L733.1 207.7L733.9 208.5L734.9 209.3L735.4 210.2L735.9 211L736.5 212.1L737.1 212.9L737.6 214L738.1 215.3L738.6 216.4L739 217.7L739.4 218.3L739.9 219.3L740.4 220.6L740.9 221.7L741.7 222.5L742.3 223.6L742.8 224.3L743.5 225.5L744.2 226.4L744.8 227.4L745.3 226.9L745.5 225.4L745.8 224.5L746.1 223.7L746.5 222.5L746.9 221.5L747.1 219.9L747.4 219.3L747.5 218L747.7 216.5L748 215.5L748 214.4L748.4 213.3L748.6 212.7L748.8 211.1L749 210.2L749.3 209.1L749.5 207.6L749.6 206.6L750 205.5L750.2 204.2L750.3 203.3L750.7 202.4L751.1 201.1L751.5 200.1L751.9 198.8L752.4 197.8L753.1 197.5L753.8 196.5L754.6 197.2L754.7 197.8L754.9 199.4L755.1 200.3L755.3 201.3L755.7 202.2L756.3 203.4L756.9 204.5L757.4 205.6L758.1 205.9L759.1 205.9L760.3 205.4L761.3 205.1L762.3 205.7L763 206.4L764 206.8L764.8 208L765.6 208.6L766.2 209.5L767.1 210.5L767.6 211.3L768.3 211.2L768.9 210.8L769.6 210L770.3 208.6L771 207.6L771.5 207.1L772 205.9L772.3 204.9L772.8 203.6L773.2 202.2L773.9 201.6L774.5 200.8L775.1 199.5L776 198.6L776.5 197.8L777.1 197.1L777.7 195.7L778 194.7L778.4 193.7L778.8 192.5L779.2 192L779.7 190.4L780.2 189.9L780.5 188.2L780.7 187.1L781.1 186L781.4 185L781.9 184.4L782.2 183L782.5 182L782.8 180.7L783.1 179.6L783.6 178.4L783.7 177.6L784.1 176.2L784.2 175.2L784.5 174.2L785 173.4L785.2 171.7L785.3 171L785.8 169.8L786.1 168.4L786.4 167.9L786.8 166.8L787.2 165.3L787.4 164.1L787.9 163.4L788.4 162.4L788.9 161.5L789.5 160.3L790 159.5L790.6 158.7L791.3 157.3L791.7 156.2L792.4 155.5L792.7 154L793.3 153.4L793.8 152.1L794.4 150.9L794.8 150.2L795 149.3L795.4 148.1L795.6 146.8L796.2 146.1L796.5 144.5L797.1 144L797.9 142.9L798.7 142.8L799.4 142.9L800.3 144L801.2 144.7L802 145.8L803 146L804.1 146.6L805 147.1L805.9 148.1L806.6 147.5L807.3 146.1L807.8 145.3L808.6 144.7L809.2 144.9L809.9 146.2L810.6 146.4L811.3 147.6L812.3 148.8L812.9 149.8L813.7 150.2L814.2 151.5L814.9 151.9L815.5 153.1L816 154.1L816.5 154.8L817 154.7L817.6 153.5L818 152.5L818.3 151.9L818.9 150.5L819.1 149.5L819.6 148.8L820 147.3L820.6 146L820.9 145.5L821.4 143.9L821.6 142.8L822.6 142.2L823.5 142L824.3 141.1L825 142.3L825.4 143.4L826 144L826.5 145.4L827.2 146.3L827.7 146.9L828 147.7L828.6 147L828.8 145.4L829.2 144.5L829.6 143.2L830 142.5L830.3 141.4L830.8 140.1L831.5 139.3L832.5 138.3L833.1 138L834 137.4L834.8 138.5L835.8 139.5L836.8 140.2L837.7 140.1L838.7 140.9L839.5 141.6L839.8 142.7L840.3 143.9L840.7 145.1L841.1 145.7L841.5 146.9L841.8 148L842.5 148.9L842.9 149.9L843.5 151.3L844.2 151.9L844.7 153.3L845.3 153.8L846.1 155L846.8 155.5L847.4 157L848.1 157.9L848.6 158.4L849.3 159.3L850.2 160.4L850.9 161.2L851.6 162.2L852.1 163.3L853 163.8L853.6 165L854.4 165.6L855.1 166.3L855.9 166.2L856.8 165.1L857.3 164.3L858.2 163.3L858.7 163.2L859.1 164.6L859.2 165.4L859.5 166.8L859.9 167.6L859.9 169.1L860.1 170L860.2 171.6L860.3 172.5L860.4 173.5L861.5 174.3L862.5 173.9L863.7 174.1L864.6 174.5L865.8 174L866.9 173.6L867.6 173.5L867.9 174.8L868.4 176.1L868.7 177L869.1 178L869.4 178.9L869.9 180.4L870 181.2L870.4 182.7L870.4 183.2L870.8 185L870.9 185.4L871.2 186.8L871.8 186L872.3 184.7L872.9 183.7L873.3 183.1L874 181.7L874.4 181.5L875.1 182.5L875.6 183.3L876.3 184.8L876.8 185.5L877.5 186.1L877.8 187.3L878 188.7L878.3 189.6L878.5 190.9L878.8 192.1L879.1 193.1L879.2 194.3L879.6 195.1L880 196.6L880.2 197.3L880.5 198.4L880.7 199.7L880.9 200.8L881.4 201.6L881.8 202.7L882.3 204.2L882.7 204.8L883.1 206.1L883.6 207L884.1 208.6L884.7 209.5L885.1 210.6L885.7 211.5L886.6 211.8L887.5 212.9L888.4 213L889.2 212L889.9 211.1L890.4 210.1L891 209.7L891.5 208.2L892.2 207.3L892.7 206.3L893.4 205.8L894.2 204.9L894.7 205.3L895.4 206L896.3 206.8L897.2 207.5L898.2 207.8L899.2 207.8L900.3 207.9L901 208.7L901.7 209.9L901.8 211.1L902 211.8L902.3 212.8L902.4 214.1L902.6 215.8L902.7 216.7L902.8 217.3L902.9 218.6L903.7 219.7L904.2 221L904.8 221.5L905.5 222.3L905.9 223.5L906.2 224.7L906.4 225.9L906.6 226.8L906.8 228.1L906.8 229.6L907 230.2L907.1 231.6L907.5 232.9L907.8 233.6L908 234.9L908.5 235.8L908.9 237L909.3 238.2L909.5 239.4L909.8 240.3L910.3 241.1L910.6 242.6L910.9 243.5L911.5 244.3L911.7 245.7L912.1 246.8L912.5 247.6L912.6 248.8L912.7 250.4L913.1 251.4L913.1 252.6L913.4 253.4L913.6 254.6L913.8 255.4L914.1 256.4L914.5 258L915 258.8L915.6 257.4L916.2 256.6L916.8 255.7L917.3 256.7L918.1 257.3L918.6 258.2L919.1 259.3L919.8 260.7L920.2 261.4L920.5 262.5L920.7 264L921.1 265L921.4 266.3L921.6 267.3L922 268.4L922.4 269.3L922.9 270.1L923.2 271.4L923.6 272.6L924 273.1L924.4 274.8L924.9 275.3L925.3 276.3L925.9 277.7L926.3 278.9L926.5 279.8L927 281.1L927.4 282.2L927.6 283.3L928.1 284.4L928.2 285L928.5 286L928.9 287.7L929.1 288.8L929.3 289.5L929.4 290.5L929.7 291.7L929.8 293L930.3 292L931 291.4L931.6 290.1L932.5 290.6L933.3 291.5L933.9 292.2L934.4 293.4L934.7 294.5L935 295.2L935.3 296.3L935.6 297.4L935.7 298.6L936.2 300.2L936.2 301L936.6 302.3L936.7 303.2L937 304.6L937.2 305.8L937.5 306.4L937.8 307.7L937.9 308.9L938.1 310.1L938.5 311.2L938.8 312L938.9 313.2L939.3 314.1L939.5 315.2L939.6 316.4L940 317.7L940 319.1L940.2 320L940.4 321.3L940.6 322.4L940.7 323.3L940.8 324.8L941.1 325.8L941.2 326.7L941.7 327.9L941.9 328.9L942.4 330" fill="none" stroke="#97161b" stroke-width="6.2" stroke-linejoin="round" stroke-linecap="round"/>
<line x1="615" y1="71" x2="615" y2="400" stroke="#000" stroke-width="2"/>
<line x1="942" y1="71" x2="942" y2="400" stroke="#111" stroke-width="2"/>
<line x1="614" y1="71.5" x2="943" y2="71.5" stroke="#000" stroke-width="1.2"/>
<line x1="614" y1="399.4" x2="943" y2="399.4" stroke="#000" stroke-width="1.4"/>
<text x="596.2" y="404.9" font-size="14.9" text-anchor="end" fill="#000" >0</text>
<text x="596.2" y="358.06" font-size="14.9" text-anchor="end" fill="#000" >5</text>
<text x="596.2" y="311.21" font-size="14.9" text-anchor="end" fill="#000" >10</text>
<text x="596.2" y="264.37" font-size="14.9" text-anchor="end" fill="#000" >15</text>
<text x="596.2" y="217.53" font-size="14.9" text-anchor="end" fill="#000" >20</text>
<text x="596.2" y="170.69" font-size="14.9" text-anchor="end" fill="#000" >25</text>
<text x="596.2" y="123.84" font-size="14.9" text-anchor="end" fill="#000" >30</text>
<text x="596.2" y="77" font-size="14.9" text-anchor="end" fill="#000" >35</text>
<text x="960" y="404.9" font-size="14.9" text-anchor="start" fill="#000" >966</text>
<text x="960" y="358.06" font-size="14.9" text-anchor="start" fill="#000" >967</text>
<text x="960" y="311.21" font-size="14.9" text-anchor="start" fill="#000" >968</text>
<text x="960" y="264.37" font-size="14.9" text-anchor="start" fill="#000" >969</text>
<text x="960" y="217.53" font-size="14.9" text-anchor="start" fill="#000" >970</text>
<text x="960" y="170.69" font-size="14.9" text-anchor="start" fill="#000" >971</text>
<text x="960" y="123.84" font-size="14.9" text-anchor="start" fill="#000" >972</text>
<text x="960" y="77" font-size="14.9" text-anchor="start" fill="#000" >973</text>
<text x="615.6" y="428.9" font-size="14.9" text-anchor="middle" fill="#000" >0945</text>
<text x="697.25" y="428.9" font-size="14.9" text-anchor="middle" fill="#000" >1545</text>
<text x="778.9" y="428.9" font-size="14.9" text-anchor="middle" fill="#000" >2145</text>
<text x="860.55" y="428.9" font-size="14.9" text-anchor="middle" fill="#000" >0345</text>
<text x="942.2" y="428.9" font-size="14.9" text-anchor="middle" fill="#000" >0945</text>
<text x="612.27" y="44.5" font-size="25.3" letter-spacing="-0.024" fill="#000">Winds (mph) &amp; Pressure (mb)</text>
<text x="725.33" y="458" font-size="20.8" letter-spacing="0.158" fill="#000">Time (UTC)</text>
<text transform="translate(564.8,367.85) rotate(-90)" font-size="18.8" letter-spacing="-0.191" fill="#000">Sonic Wind &amp; Gust (Blue, Black)</text>
<text transform="translate(1014,358.87) rotate(-90)" font-size="21.5" letter-spacing="-0.210" fill="#000">Station Pressure (Maroon)</text>
</g>
<g id="p3">
<path d="M103 666.9L104.1 666.1L105.1 666L105.4 665.1L105.9 664L106.5 662.6L107.1 662.3L107.5 660.7L108.1 660.4L108.5 658.8L109 657.3L109.4 656.5L109.6 655.3L110.2 655L111 654L111.9 653L112.7 651.9L113.4 651.2L114.3 650.6L115 649.9L115.7 648.7L116.6 648.2L117.2 647.3L118 646.7L118.9 645.3L119.8 644.4L120.4 644.2L121.1 643.1L122.1 642.7L123.3 642L124.3 641.2L125.2 640.8L126.1 640L127.1 639.8L127.9 638.9L128.8 638.4L130 638.1L131 636.9L131.8 636.6L132.6 635.8L133.6 634.8L134.6 634.8L135.6 634.4L136.8 635.4L136.9 633.9L137.3 633.2L137.5 632L137.5 630.5L137.8 629.8L138.1 628L138.3 627.3L139.4 627.9L140.5 628.3L141.2 629.1L142.2 630L143.3 630.9L143.5 631.9L143.9 632.4L144.4 634.2L144.7 635.3L144.9 636L145.4 637.2L146 637.6L146.6 638.7L147.3 639.5L147.7 640.6L148.2 641.8L148.6 643.4L149.1 643.8L149.4 645.1L149.8 645.9L150.3 647.9L150.5 648.5L150.7 649.2L151.2 650.4L151.7 651.4L151.8 653.2L152.3 653.5L152.7 654.5L153.1 656.5L153.6 657.3L153.8 658L154.2 659.5L154.7 660.6L155.1 661.1L155.7 662.9L156.1 663.8L156.5 664.8L156.7 665.6L157.1 666.2L157.3 667.5L157.4 669.1L157.7 670L157.7 671.7L157.7 672.2L157.6 673.1L158.3 674L159.2 675.6L160 676L160.4 677.3L160.8 678.2L161.6 679.4L162 680.1L162.3 681.4L162.8 682.5L163.5 683.1L163.7 684.7L164.2 685L164.4 686.1L165.1 687.8L165.4 688.8L166.3 689.6L166.6 690.5L167.1 690.9L168.2 692.3L169 693.2L170 693.7L170.9 693.8L171.2 694.9L171.7 696.2L172.2 697.1L172.7 698.6L173.3 699.2L173.9 700.6L174.3 701.7L174.9 702.3L175.4 702.8L175.8 704L176 705.7L176.3 706.5L176.9 707.7L177.1 708.7L177.5 710.1L177.5 711L177.8 711.8L178.2 713.2L178.4 714.5L178.7 715.3L178.8 716.5L179 717.8L179.2 718.8L179.3 720.3L179.6 721.4L179.9 721.9L179.9 723.7L180.3 724L180.4 725.4L180.7 726.3L181 727.8L181.6 729.1L181.7 730L182.4 730.5L183 732.3L183.2 733.4L183.9 733.7L185.3 734.1L185.6 733.1L186 731.9L186.2 730.8L186.7 729.4L186.9 728.7L187 727.5L187.5 726.5L187.7 726L188.4 724.9L188.6 723.1L189 722.6L189.9 721.4L191.1 721.9L192.4 721.1L193.2 721.3L194.3 720.5L195.2 719.4L196.4 719.4L197.2 720.5L198.4 720.9L199.1 721.6L199.7 722.5L200.3 723L200.9 724.6L201.2 724.9L201.3 726.1L201.2 727.2L201.2 728.4L201.4 729.6L201.6 730.8L201.6 731.8L201.6 732.8L201.6 733.9L201.9 735.6L201.8 736.6L202.1 737.4L202.1 738.9L202.1 740.4L202.1 741.2L202.3 742.8L202.3 743.8L202.5 744.8L202.5 745.6L202.5 746.5L202.6 748.3L202.7 748.8L202.8 750.6L203.2 751.6L203.1 752.3L203.4 753.6L203.7 754.7L204 756.3L204.6 757L204.7 758.5L205.1 759L205.4 760L206 761.2L206.4 762.2L206.8 762.7L207.6 762L208.3 760.7L209.1 760L209.6 759.3L209.9 758.3L210.1 757.4L210.3 755.8L210.7 756.1L210.8 757.7L210.8 759L211.3 759.9L211.5 761.2L211.5 762L211.8 763.5L212.1 764.6L212.2 765.8L212.4 766.7L212.5 767.2L212.6 768.6L213 768L213.5 766.7L213.9 765.7L214.2 763.9L214.9 764.2L215.9 764.4L217 764.3L217.9 765.1L218.5 765.9L219.6 766.7L220.4 768.3L221 768.5L221.7 769.7L222.6 770.5L223.2 770.9L223.2 772.2L223.5 773.4L223.6 774.2L223.6 775.6L224 777.2L224.2 777.9L224.3 779.2L224.6 779.9L225.6 780.8L226.1 780.9L226.2 779.3L226.8 778.8L227.1 777L227.5 776.7L228.5 776.9L229.5 777.3L230.9 777.3L231.9 778L232.7 777.9L232.7 777L233.1 775L233.2 774.4L233.6 773L233.7 772L234.2 771.4L234.4 770.2L235.1 768.5L235.5 768L235.9 766.7L236.8 767.1L238.2 767.6L238.6 766.6L239.2 765.3L239.8 765.1L240.5 764.3L240.9 762.5L241.5 761.4L241.9 761.1L242.5 760L243.1 759.2L244 758.4L244.4 758.9L244.8 760.4L245.3 761.6L245.6 762L246.7 761.4L247.4 761L248.2 761.1L249 761.6L249.5 762.6L250 763.7L250.3 764.6L250.6 766.4L251.1 766.8L251.7 767.4L252.1 765.5L252.6 764.5L253.2 763.5L253.9 762.8L255.1 763.2L256.3 762.4L257.2 762.8L258.3 762.9L259.2 762.4L260.4 761.6L261.1 761.4L262.1 760.2L262.6 759.3L263.3 758.6L264.3 758.3L265.4 757L266.1 757.3L267.3 756.4L267.7 754.9L268.2 754.9L269 753.8L269.6 752.2L269.8 751.1L270.5 750.7L271.3 749.7L271.7 748.8L272.4 747.8L273.2 747.3L274.2 746.8L274.9 746.9L275.2 747.9L275.9 749.4L276.1 749.8L276.4 751.4L276.5 752.2L276.7 753.1L276.7 754.7L277.1 756L277.2 757L277.1 757.9L277.4 759.5L277.3 760L277.7 761.7L278.3 762.2L279.1 763.7L279.7 763.7L280.6 764.9L281.5 765.5L282.2 766.1L282.7 764.6L283.5 763.7L284.1 762.7L284.5 762.2L285 761.4L285.5 759.6L285.8 758.7L286.3 758.2L286.5 756.6L287 756.1L287.3 754.1L288 753.5L289 753.1L289.6 752.3L290.4 750.8L290.9 750.5L291.8 748.7L292.5 748.2L293.1 747.3L294.2 746.8L295.4 747L296.7 746.6L297.7 746.1L298.4 746L299.5 745L299.5 743.9L299.9 743.2L300.1 741.6L300.6 740.1L301 740L302.1 738.6L302.8 738L304 737.6L304.8 737.5L305.4 736L306.4 735.4L306.8 734.7L307.7 733.5L308.7 734L309.9 733.3L310.5 731.8L310.9 731.3L311.8 730.8L312.3 729.2L313.1 728.6L313.9 727.4L314.1 726.9L314.3 725.8L314.5 724.2L314.6 723.1L314.9 721.7L315 721.3L315.4 719.5L315.7 719L316.2 718.3L316.8 717.3L317 715.3L317.3 714.6L317.8 713.5L318 712.4L318.5 711.5L318.9 712.6L319.2 712.9L319.6 714.2L319.8 715.4L320.2 716.3L320.3 717.4L320.6 719.2L321.1 719.7L321.4 721.5L321.8 721.8L322.4 723.2L323.1 723.6L323.5 725.3L324.3 726.3L324.9 726.4L325.9 726.9L327.2 727.8L327.8 727.3L328.1 726.3L328.3 725.5L328.8 723.8L329.1 723.2L329.3 721.9L329.6 720.6L330 720L331 718.8L331.6 718.1L332.9 718L333.8 718.3L334.9 719.3L335.5 719.6L336.4 720.9L337 720.3L336.8 719.8L337 718.2L337 717.8L337.1 716.2L337.1 714.9L337.4 714.4L337.3 712.4L337.4 711.3L337.2 710.9L337.4 709.7L337.7 708.6L338.1 706.8L338.3 706.1L338.9 705.4L339.2 704.1L339.5 702.8L339.5 701.5L339.8 701L339.9 699.4L340.3 698.8L340.2 696.8L340.6 696.5L340.6 694.5L340.8 693.7L340.9 692.8L341 691.2L341 690.1L340.9 689.6L341.2 687.8L341 686.9L341.2 685.7L341.2 684.4L341.5 684L341.4 682.5L341.8 680.8L341.9 679.8L341.9 679.1L342.1 677.7L342.1 676.8L342.3 675.8L342.4 674.4L342.4 673.5L342.7 672L343 671.4L343 669.7L343.2 668.5L343.2 667.7L343.4 666.5L343.7 665L343.8 663.9L343.9 663.5L343.9 661.6L344 660.8L344.2 659.4L344.3 659.1L344.3 657.8L344.2 656.8L344.4 655.7L344.7 653.8L345 653.4L345 651.8L345.5 650.5L345.8 649.5L345.9 648.2L345.8 647.8L345.8 646L346 645L346 643.7L346.1 643.3L346.9 642.3L347.5 641.7L347.9 642.4L348.6 643.3L349.2 644.5L349.6 645.8L350 647L350.7 647.4L350.9 646.1L351.1 645.3L351.1 644.4L351.3 642.7L351.5 641.4L351.7 640.5L351.8 640.1L352 638.6L352.3 636.9L352.6 636L353.2 635.2L353.6 634.6L353.9 634.1L354.6 634.9L354.9 636.2L355.4 637.2L356 638.5L356.6 639.1L357.1 640.4L357.6 641.8L358.6 641.7L359.3 642.4L359.6 641.4L359.5 639.7L359.4 639L359.7 637.5L359.8 636.5L359.9 635.6L359.7 634.7L359.7 633.2L359.9 631.7L359.9 631.1L360.1 629.8L360.6 628.2L360.5 627.6L360.8 626.5L361.1 624.9L361.1 623.9L361.3 624.9L361.9 625.8L362 627L362.5 627.7L362.9 628.8L363 629.6L363.2 630.6L363.4 632.5L363.7 633.7L363.9 634.2L364.1 635.5L364.3 636.7L364.4 637.3L364.8 635.8L365 634.5L365 633.6L365.4 633.1L365.6 631.4L365.9 630.3L365.9 629.8L366.3 628.4L366.5 627.6L366.7 626.3L367 625.2L367.1 624L367.5 622.5L367.6 621.7L367.8 620.8L368.1 618.9L368.3 618.6L368.8 618.7L369 619.7L369.6 621.4L370 622.6L370.7 623L371.8 623.8L372.8 623.7L373.1 622.7L373.9 621.7L374.1 620L374.3 618.7L374.7 618.4L374.7 617.2L374.8 615.6L374.7 614.2L375 613.2L375 612.3L375.1 611L375.4 610.3L375.7 608.8L376.2 607.9L376.4 606.9L376.3 605.6L376.7 606.9L377 608L377.3 608.6L377.7 609.6L377.9 610.8L377.9 611.9L378.3 613.8L378.2 614.5L378.6 615.9L378.6 616.7L378.8 618.2L379 619.4L379.1 619.8L379.4 621.2L379.3 622.5L379.4 623.8L379.7 624.9L379.8 625.6L379.8 626.8L380.1 627.7L380.2 627.8L380.1 626.9L380.4 626L380.4 625.3L380.5 623.7L380.7 622.9L380.9 621.6L380.9 620.2L380.9 619.6L381.2 618.3L381.2 616.9L381.7 615.9L381.7 614.7L382.2 613.4L382.1 612.3L382.5 611.7L382.4 611.9L382.5 613.2L382.7 614.2L382.6 615.4L382.9 617L382.7 618.4L382.7 619L383.1 620.5L383 621.3L382.9 622.6L382.9 623.3L383.1 624.3L383.1 626.2L383.3 627.1L383.4 628.2L383.3 629.4L383.5 630.7L383.7 631.5L383.7 633L383.7 633.6L384 634.1L384.2 632.8L384.4 631.7L384.6 630.3L384.7 629.4L384.8 628.1L385.3 627.3L385.5 625.7L385.8 625.1L386.8 625.7L387.7 626.6L388.5 625.6L389.7 625L390.6 626.2L391.4 626.3L392.4 627.2L393.6 627.6L394.2 628.3L395.1 629.3L395.3 630.3L395.6 631.3L395.7 632.9L395.8 633.7L396.1 634.9L396.2 636.3L396.5 636.5L396.7 637.9L396.8 638.3L397.2 637.4L397.4 635.9L397.5 635.2L398 633.9L398 633.1L398.2 631.3L398.3 630.8L398.7 629.5L398.7 628.3L398.8 627.6L399 626.1L399.3 625.2L399.4 623.5L400.1 622.4L400.9 621.8L401.6 620.8L402.2 620L403.1 619.1L403.6 619.2L404.1 619.8L404.4 621.1L404.8 622.4L405.2 623.2L405.6 624.8L405.7 625.8L406.5 626.8L406.7 627.8L407.4 628L407.6 628.4L408.3 626.6L408.5 625.4L408.9 625L409.4 623.3L410.6 623.3L411.2 623L411.4 624L411.6 625.3L411.8 626.4L411.7 627.4L412 628.5L412.1 629.8L412.3 630.3L412.3 631.3L412.5 632.4L412.5 633.6L412.5 635.1L412.5 636.6L412.3 637.7L412.5 638.6L412.5 640L412.4 640.7L412.6 641.5L412.5 643.2L412.3 644.3L412.5 645.8L412.4 647L412.4 647.6L412.6 648.3L412.5 650L412.4 651.4L412.5 652.2L412.6 653.6L412.6 654.4L412.7 655.7L412.9 656.6L413.3 656.5L413.8 655.4L414.4 655.5L414.6 656.4L414.5 657.1L414.6 658.5L414.9 659.8L414.7 660.9L415.1 661.9L415 662.8L415 663.8L415.4 665.3L415.3 666.7L415.4 667.6L415.4 668.8L415.4 669.9L415.5 670.6L415.5 672L415.6 672.8L415.4 673.9L415.7 675.9L415.7 676.5L415.7 678L415.7 678.7L415.6 680L415.7 681.1L415.8 682.8L415.7 683.5L415.7 684.2L416 685.8L416.1 686.8L415.8 687.9L416.1 689.6L416.3 690.3L416.2 691L416.3 692.3L416.2 693.2L416.2 695L416.3 696.5L416.4 697.5L416.5 697.8L416.9 699.1L417.1 700.2L417 701.9L417.7 702.7L418.7 701.5L419.5 702.5L420 703.6L420.6 704.6L421.3 704.7L421.5 706.4L422.3 706.7L422.3 706.3L422.5 705.3L422.8 703.3L423 702.7L423.2 701.7L423.3 700.7L423.4 699.4L423.5 698.1L423.5 697.3L423.7 696.1L423.6 694.5L423.5 694.1L423.8 692.8L423.7 691.4L424 690.5L424 688.8L424 688.3L424.1 686.9L424.3 686L424.5 684.3L424.3 683.1L424.7 683.8L425.2 685.2L425.2 686.2L425.8 687.3L425.9 687.9L426.2 689.5L426.3 690.8L426.3 691.1L426.6 692.9L426.6 694L427.1 694.6L427.1 696.2L427.3 696.8L427.4 698.5L427.8 699.3L427.7 700.8L428.1 701.3L428.5 703L429.2 703.7L429.5 704.8L430.4 704.2L431.6 704.1" fill="none" stroke="#8cc74d" stroke-width="5.9" stroke-linejoin="round" stroke-linecap="round"/>
<line x1="103.6" y1="524.3" x2="103.6" y2="532.5" stroke="#333" stroke-width="1"/>
<line x1="103.6" y1="860.1" x2="103.6" y2="868.5" stroke="#000" stroke-width="1" stroke-opacity=".85"/>
<line x1="144.43" y1="532.5" x2="144.43" y2="860.1" stroke="#000" stroke-width="1" stroke-opacity=".85"/>
<line x1="144.43" y1="524.3" x2="144.43" y2="532.5" stroke="#000" stroke-width="1" stroke-opacity=".85"/>
<line x1="144.43" y1="860.1" x2="144.43" y2="868.5" stroke="#000" stroke-width="1" stroke-opacity=".85"/>
<line x1="185.25" y1="532.5" x2="185.25" y2="860.1" stroke="#000" stroke-width="1" stroke-opacity=".85"/>
<line x1="185.25" y1="524.3" x2="185.25" y2="532.5" stroke="#000" stroke-width="1" stroke-opacity=".85"/>
<line x1="185.25" y1="860.1" x2="185.25" y2="868.5" stroke="#000" stroke-width="1" stroke-opacity=".85"/>
<line x1="226.07" y1="532.5" x2="226.07" y2="860.1" stroke="#000" stroke-width="1" stroke-opacity=".85"/>
<line x1="226.07" y1="524.3" x2="226.07" y2="532.5" stroke="#000" stroke-width="1" stroke-opacity=".85"/>
<line x1="226.07" y1="860.1" x2="226.07" y2="868.5" stroke="#000" stroke-width="1" stroke-opacity=".85"/>
<line x1="266.9" y1="532.5" x2="266.9" y2="860.1" stroke="#000" stroke-width="1" stroke-opacity=".85"/>
<line x1="266.9" y1="524.3" x2="266.9" y2="532.5" stroke="#000" stroke-width="1" stroke-opacity=".85"/>
<line x1="266.9" y1="860.1" x2="266.9" y2="868.5" stroke="#000" stroke-width="1" stroke-opacity=".85"/>
<line x1="307.73" y1="532.5" x2="307.73" y2="860.1" stroke="#000" stroke-width="1" stroke-opacity=".85"/>
<line x1="307.73" y1="524.3" x2="307.73" y2="532.5" stroke="#000" stroke-width="1" stroke-opacity=".85"/>
<line x1="307.73" y1="860.1" x2="307.73" y2="868.5" stroke="#000" stroke-width="1" stroke-opacity=".85"/>
<line x1="348.55" y1="532.5" x2="348.55" y2="860.1" stroke="#000" stroke-width="1" stroke-opacity=".85"/>
<line x1="348.55" y1="524.3" x2="348.55" y2="532.5" stroke="#000" stroke-width="1" stroke-opacity=".85"/>
<line x1="348.55" y1="860.1" x2="348.55" y2="868.5" stroke="#000" stroke-width="1" stroke-opacity=".85"/>
<line x1="389.38" y1="532.5" x2="389.38" y2="860.1" stroke="#000" stroke-width="1" stroke-opacity=".85"/>
<line x1="389.38" y1="524.3" x2="389.38" y2="532.5" stroke="#000" stroke-width="1" stroke-opacity=".85"/>
<line x1="389.38" y1="860.1" x2="389.38" y2="868.5" stroke="#000" stroke-width="1" stroke-opacity=".85"/>
<line x1="430.2" y1="524.3" x2="430.2" y2="532.5" stroke="#333" stroke-width="1"/>
<line x1="430.2" y1="860.1" x2="430.2" y2="868.5" stroke="#000" stroke-width="1" stroke-opacity=".85"/>
<line x1="94" y1="860.1" x2="438.8" y2="860.1" stroke="#000" stroke-width="1" stroke-opacity=".85"/>
<line x1="94" y1="794.58" x2="438.8" y2="794.58" stroke="#000" stroke-width="1" stroke-opacity=".85"/>
<line x1="94" y1="729.06" x2="438.8" y2="729.06" stroke="#000" stroke-width="1" stroke-opacity=".85"/>
<line x1="94" y1="663.54" x2="438.8" y2="663.54" stroke="#000" stroke-width="1" stroke-opacity=".85"/>
<line x1="94" y1="598.02" x2="438.8" y2="598.02" stroke="#000" stroke-width="1" stroke-opacity=".85"/>
<line x1="94" y1="532.5" x2="438.8" y2="532.5" stroke="#000" stroke-width="1" stroke-opacity=".85"/>
<line x1="98.1" y1="827.34" x2="102.6" y2="827.34" stroke="#444" stroke-width="0.7"/>
<line x1="98.1" y1="761.82" x2="102.6" y2="761.82" stroke="#444" stroke-width="0.7"/>
<line x1="98.1" y1="696.3" x2="102.6" y2="696.3" stroke="#444" stroke-width="0.7"/>
<line x1="98.1" y1="630.78" x2="102.6" y2="630.78" stroke="#444" stroke-width="0.7"/>
<line x1="98.1" y1="565.26" x2="102.6" y2="565.26" stroke="#444" stroke-width="0.7"/>
<line x1="430.2" y1="843.72" x2="434.7" y2="843.72" stroke="#444" stroke-width="0.7"/>
<line x1="430.2" y1="827.34" x2="434.7" y2="827.34" stroke="#444" stroke-width="0.7"/>
<line x1="430.2" y1="810.96" x2="434.7" y2="810.96" stroke="#444" stroke-width="0.7"/>
<line x1="430.2" y1="778.2" x2="434.7" y2="778.2" stroke="#444" stroke-width="0.7"/>
<line x1="430.2" y1="761.82" x2="434.7" y2="761.82" stroke="#444" stroke-width="0.7"/>
<line x1="430.2" y1="745.44" x2="434.7" y2="745.44" stroke="#444" stroke-width="0.7"/>
<line x1="430.2" y1="712.68" x2="434.7" y2="712.68" stroke="#444" stroke-width="0.7"/>
<line x1="430.2" y1="696.3" x2="434.7" y2="696.3" stroke="#444" stroke-width="0.7"/>
<line x1="430.2" y1="679.92" x2="434.7" y2="679.92" stroke="#444" stroke-width="0.7"/>
<line x1="430.2" y1="647.16" x2="434.7" y2="647.16" stroke="#444" stroke-width="0.7"/>
<line x1="430.2" y1="630.78" x2="434.7" y2="630.78" stroke="#444" stroke-width="0.7"/>
<line x1="430.2" y1="614.4" x2="434.7" y2="614.4" stroke="#444" stroke-width="0.7"/>
<line x1="430.2" y1="581.64" x2="434.7" y2="581.64" stroke="#444" stroke-width="0.7"/>
<line x1="430.2" y1="565.26" x2="434.7" y2="565.26" stroke="#444" stroke-width="0.7"/>
<line x1="430.2" y1="548.88" x2="434.7" y2="548.88" stroke="#444" stroke-width="0.7"/>
<path d="M103.6 860.1L430.2 860.1" fill="none" stroke="#45b045" stroke-width="13.4" stroke-linejoin="round" stroke-linecap="round"/>
<line x1="103" y1="532" x2="103" y2="860.7" stroke="#000" stroke-width="2"/>
<line x1="430" y1="532" x2="430" y2="860.7" stroke="#000" stroke-width="2"/>
<line x1="102" y1="532.5" x2="431" y2="532.5" stroke="#000" stroke-width="1.2"/>
<line x1="102" y1="860.1" x2="431" y2="860.1" stroke="#000" stroke-width="1.4"/>
<text x="83.6" y="865.6" font-size="14.9" text-anchor="end" fill="#000" >0</text>
<text x="448.4" y="865.6" font-size="14.9" text-anchor="start" fill="#000" >0.00</text>
<text x="83.6" y="800.08" font-size="14.9" text-anchor="end" fill="#000" >20</text>
<text x="448.4" y="800.08" font-size="14.9" text-anchor="start" fill="#000" >0.02</text>
<text x="83.6" y="734.56" font-size="14.9" text-anchor="end" fill="#000" >40</text>
<text x="448.4" y="734.56" font-size="14.9" text-anchor="start" fill="#000" >0.04</text>
<text x="83.6" y="669.04" font-size="14.9" text-anchor="end" fill="#000" >60</text>
<text x="448.4" y="669.04" font-size="14.9" text-anchor="start" fill="#000" >0.06</text>
<text x="83.6" y="603.52" font-size="14.9" text-anchor="end" fill="#000" >80</text>
<text x="448.4" y="603.52" font-size="14.9" text-anchor="start" fill="#000" >0.08</text>
<text x="83.6" y="538" font-size="14.9" text-anchor="end" fill="#000" >100</text>
<text x="448.4" y="538" font-size="14.9" text-anchor="start" fill="#000" >0.10</text>
<text x="103.6" y="889.9" font-size="14.9" text-anchor="middle" fill="#000" >0945</text>
<text x="185.25" y="889.9" font-size="14.9" text-anchor="middle" fill="#000" >1545</text>
<text x="266.9" y="889.9" font-size="14.9" text-anchor="middle" fill="#000" >2145</text>
<text x="348.55" y="889.9" font-size="14.9" text-anchor="middle" fill="#000" >0345</text>
<text x="430.2" y="889.9" font-size="14.9" text-anchor="middle" fill="#000" >0945</text>
<text x="37.48" y="505.3" font-size="25.3" letter-spacing="0.018" fill="#000">Relative Humidity (%) &amp; Precipitation (in)</text>
<text transform="translate(43.4,804.11) rotate(-90)" font-size="21.4" letter-spacing="-0.088" fill="#000">Percent &amp; Precipitation</text>
</g>
<g id="p4">
<circle cx="659.2" cy="617" r="4" fill="#b9e3f9"/>
<circle cx="657.8" cy="620.2" r="4" fill="#b9e3f9"/>
<circle cx="652.8" cy="627" r="4" fill="#b9e3f9"/>
<circle cx="650.9" cy="648.5" r="4" fill="#b9e3f9"/>
<circle cx="649.6" cy="721.6" r="4" fill="#b9e3f9"/>
<circle cx="654" cy="817.8" r="4" fill="#b9e3f9"/>
<circle cx="786.2" cy="543.8" r="4" fill="#b9e3f9"/>
<circle cx="812.3" cy="547" r="4" fill="#b9e3f9"/>
<circle cx="819.8" cy="580.7" r="4" fill="#b9e3f9"/>
<circle cx="817.8" cy="608.8" r="4" fill="#b9e3f9"/>
<circle cx="835.4" cy="625.9" r="4" fill="#b9e3f9"/>
<circle cx="855.5" cy="635.5" r="4" fill="#b9e3f9"/>
<circle cx="815.7" cy="642.9" r="4" fill="#b9e3f9"/>
<circle cx="862.8" cy="662.3" r="4" fill="#b9e3f9"/>
<circle cx="815.7" cy="674.7" r="4" fill="#b9e3f9"/>
<circle cx="824.7" cy="677.9" r="4" fill="#b9e3f9"/>
<circle cx="816.7" cy="695.7" r="4" fill="#b9e3f9"/>
<circle cx="830.7" cy="709.1" r="4" fill="#b9e3f9"/>
<circle cx="841.9" cy="737" r="4" fill="#b9e3f9"/>
<circle cx="856.6" cy="737.9" r="4" fill="#b9e3f9"/>
<circle cx="849.8" cy="756" r="4" fill="#b9e3f9"/>
<circle cx="859.1" cy="759.1" r="4" fill="#b9e3f9"/>
<circle cx="858.8" cy="766.6" r="4" fill="#b9e3f9"/>
<circle cx="850.6" cy="771.2" r="4" fill="#b9e3f9"/>
<circle cx="853.7" cy="801.7" r="4" fill="#b9e3f9"/>
<circle cx="857.5" cy="812.7" r="4" fill="#b9e3f9"/>
<circle cx="871.9" cy="817" r="4" fill="#b9e3f9"/>
<circle cx="828.3" cy="844.4" r="4" fill="#b9e3f9"/>
<circle cx="829.4" cy="854.4" r="4" fill="#b9e3f9"/>
<circle cx="885.2" cy="634.8" r="4" fill="#b9e3f9"/>
<circle cx="889.9" cy="644.8" r="4" fill="#b9e3f9"/>
<circle cx="920.2" cy="653.6" r="4" fill="#b9e3f9"/>
<circle cx="886.3" cy="659.9" r="4" fill="#b9e3f9"/>
<circle cx="873.7" cy="678.8" r="4" fill="#b9e3f9"/>
<circle cx="898.6" cy="677.1" r="4" fill="#b9e3f9"/>
<circle cx="887.4" cy="684" r="4" fill="#b9e3f9"/>
<circle cx="870.4" cy="698.1" r="4" fill="#b9e3f9"/>
<circle cx="895" cy="698.4" r="4" fill="#b9e3f9"/>
<circle cx="863.9" cy="706.8" r="4" fill="#b9e3f9"/>
<circle cx="891.8" cy="708.7" r="4" fill="#b9e3f9"/>
<circle cx="889" cy="711.7" r="4" fill="#b9e3f9"/>
<circle cx="918" cy="713.1" r="4" fill="#b9e3f9"/>
<circle cx="897.8" cy="735.2" r="4" fill="#b9e3f9"/>
<circle cx="864.6" cy="757.3" r="4" fill="#b9e3f9"/>
<circle cx="647.4" cy="533.6" r="4" fill="#7cb8e4"/>
<circle cx="646.1" cy="544.6" r="4" fill="#7cb8e4"/>
<circle cx="645" cy="552.7" r="4" fill="#7cb8e4"/>
<circle cx="643.2" cy="565.3" r="4" fill="#7cb8e4"/>
<circle cx="644.1" cy="572.1" r="4" fill="#7cb8e4"/>
<circle cx="655.8" cy="579.2" r="4" fill="#7cb8e4"/>
<circle cx="651.8" cy="592.7" r="4" fill="#7cb8e4"/>
<circle cx="648.5" cy="594" r="4" fill="#7cb8e4"/>
<circle cx="668.9" cy="610.4" r="4" fill="#7cb8e4"/>
<circle cx="664.3" cy="617" r="4" fill="#7cb8e4"/>
<circle cx="661" cy="626.8" r="4" fill="#7cb8e4"/>
<circle cx="675.3" cy="625.7" r="4" fill="#7cb8e4"/>
<circle cx="661.6" cy="633.9" r="4" fill="#7cb8e4"/>
<circle cx="663.2" cy="641" r="4" fill="#7cb8e4"/>
<circle cx="666.5" cy="651.6" r="4" fill="#7cb8e4"/>
<circle cx="667.9" cy="664" r="4" fill="#7cb8e4"/>
<circle cx="665.6" cy="674.4" r="4" fill="#7cb8e4"/>
<circle cx="826.1" cy="533" r="4" fill="#7cb8e4"/>
<circle cx="827.1" cy="542.4" r="4" fill="#7cb8e4"/>
<circle cx="832.9" cy="563.9" r="4" fill="#7cb8e4"/>
<circle cx="813.5" cy="582" r="4" fill="#7cb8e4"/>
<circle cx="791.9" cy="596.4" r="4" fill="#7cb8e4"/>
<circle cx="787.3" cy="598.2" r="4" fill="#7cb8e4"/>
<circle cx="807.7" cy="601.7" r="4" fill="#7cb8e4"/>
<circle cx="804.8" cy="602.8" r="4" fill="#7cb8e4"/>
<circle cx="805.5" cy="607.1" r="4" fill="#7cb8e4"/>
<circle cx="793" cy="609.5" r="4" fill="#7cb8e4"/>
<circle cx="821.4" cy="614.8" r="4" fill="#7cb8e4"/>
<circle cx="823" cy="617.8" r="4" fill="#7cb8e4"/>
<circle cx="802.3" cy="620.8" r="4" fill="#7cb8e4"/>
<circle cx="803.4" cy="627.9" r="4" fill="#7cb8e4"/>
<circle cx="823.6" cy="628.5" r="4" fill="#7cb8e4"/>
<circle cx="800.1" cy="645.7" r="4" fill="#7cb8e4"/>
<circle cx="811.3" cy="643.4" r="4" fill="#7cb8e4"/>
<circle cx="820.3" cy="642.7" r="4" fill="#7cb8e4"/>
<circle cx="831.8" cy="665.4" r="4" fill="#7cb8e4"/>
<circle cx="841.1" cy="684.2" r="4" fill="#7cb8e4"/>
<circle cx="837.8" cy="684.8" r="4" fill="#7cb8e4"/>
<circle cx="836.2" cy="689.7" r="4" fill="#7cb8e4"/>
<circle cx="838.4" cy="693" r="4" fill="#7cb8e4"/>
<circle cx="839.8" cy="696.8" r="4" fill="#7cb8e4"/>
<circle cx="846.3" cy="711.9" r="4" fill="#7cb8e4"/>
<circle cx="842.7" cy="720.1" r="4" fill="#7cb8e4"/>
<circle cx="847.7" cy="720.6" r="4" fill="#7cb8e4"/>
<circle cx="845.5" cy="716.8" r="4" fill="#7cb8e4"/>
<circle cx="848.8" cy="732.7" r="4" fill="#7cb8e4"/>
<circle cx="834" cy="738.3" r="4" fill="#7cb8e4"/>
<circle cx="854.4" cy="772" r="4" fill="#7cb8e4"/>
<circle cx="852.2" cy="803.7" r="4" fill="#7cb8e4"/>
<circle cx="869.3" cy="814.8" r="4" fill="#7cb8e4"/>
<circle cx="861.1" cy="822.3" r="4" fill="#7cb8e4"/>
<circle cx="872.6" cy="648.1" r="4" fill="#7cb8e4"/>
<circle cx="906.8" cy="646.5" r="4" fill="#7cb8e4"/>
<circle cx="915.8" cy="659.4" r="4" fill="#7cb8e4"/>
<circle cx="879.5" cy="669.5" r="4" fill="#7cb8e4"/>
<circle cx="910.1" cy="672.4" r="4" fill="#7cb8e4"/>
<circle cx="913.6" cy="676.9" r="4" fill="#7cb8e4"/>
<circle cx="881.9" cy="677.1" r="4" fill="#7cb8e4"/>
<circle cx="921.6" cy="680.2" r="4" fill="#7cb8e4"/>
<circle cx="877" cy="683.7" r="4" fill="#7cb8e4"/>
<circle cx="922.4" cy="689.7" r="4" fill="#7cb8e4"/>
<circle cx="904.9" cy="689.1" r="4" fill="#7cb8e4"/>
<circle cx="893.2" cy="689.7" r="4" fill="#7cb8e4"/>
<circle cx="876.2" cy="693.5" r="4" fill="#7cb8e4"/>
<circle cx="894.8" cy="693.5" r="4" fill="#7cb8e4"/>
<circle cx="901" cy="696.8" r="4" fill="#7cb8e4"/>
<circle cx="878.1" cy="699.5" r="4" fill="#7cb8e4"/>
<circle cx="914.7" cy="699" r="4" fill="#7cb8e4"/>
<circle cx="883.5" cy="702.3" r="4" fill="#7cb8e4"/>
<circle cx="908.7" cy="704.6" r="4" fill="#7cb8e4"/>
<circle cx="916.9" cy="705.7" r="4" fill="#7cb8e4"/>
<circle cx="904.9" cy="709" r="4" fill="#7cb8e4"/>
<circle cx="912.5" cy="709" r="4" fill="#7cb8e4"/>
<circle cx="848" cy="712.3" r="4" fill="#7cb8e4"/>
<circle cx="880.6" cy="715.2" r="4" fill="#7cb8e4"/>
<circle cx="902.7" cy="716.1" r="4" fill="#7cb8e4"/>
<circle cx="868.2" cy="717.4" r="4" fill="#7cb8e4"/>
<circle cx="867.1" cy="725.6" r="4" fill="#7cb8e4"/>
<circle cx="907.9" cy="732.2" r="4" fill="#7cb8e4"/>
<circle cx="896.7" cy="739.9" r="4" fill="#7cb8e4"/>
<circle cx="866" cy="739.8" r="4" fill="#7cb8e4"/>
<circle cx="900" cy="749.7" r="4" fill="#7cb8e4"/>
<circle cx="629" cy="561.4" r="4" fill="#4589c4"/>
<circle cx="636.7" cy="564.7" r="4" fill="#4589c4"/>
<circle cx="637.5" cy="567.2" r="4" fill="#4589c4"/>
<circle cx="635.1" cy="567.8" r="4" fill="#4589c4"/>
<circle cx="625.5" cy="567.8" r="4" fill="#4589c4"/>
<circle cx="639.2" cy="576.3" r="4" fill="#4589c4"/>
<circle cx="625.7" cy="579.6" r="4" fill="#4589c4"/>
<circle cx="676.9" cy="590.9" r="4" fill="#4589c4"/>
<circle cx="670.3" cy="619.7" r="4" fill="#4589c4"/>
<circle cx="674.7" cy="620.2" r="4" fill="#4589c4"/>
<circle cx="684.9" cy="618.1" r="4" fill="#4589c4"/>
<circle cx="680.2" cy="625.7" r="4" fill="#4589c4"/>
<circle cx="672.5" cy="632.8" r="4" fill="#4589c4"/>
<circle cx="684" cy="635" r="4" fill="#4589c4"/>
<circle cx="673.6" cy="638.8" r="4" fill="#4589c4"/>
<circle cx="683.5" cy="638.8" r="4" fill="#4589c4"/>
<circle cx="671.2" cy="655.2" r="4" fill="#4589c4"/>
<circle cx="785.7" cy="564.6" r="4" fill="#4589c4"/>
<circle cx="790.8" cy="602.5" r="4" fill="#4589c4"/>
<circle cx="808.8" cy="606.6" r="4" fill="#4589c4"/>
<circle cx="797.3" cy="614.8" r="4" fill="#4589c4"/>
<circle cx="799.5" cy="613.9" r="4" fill="#4589c4"/>
<circle cx="810.1" cy="615.3" r="4" fill="#4589c4"/>
<circle cx="797.1" cy="622.1" r="4" fill="#4589c4"/>
<circle cx="794.3" cy="631" r="4" fill="#4589c4"/>
<circle cx="911.4" cy="686.7" r="4" fill="#4589c4"/>
<circle cx="923.8" cy="687.8" r="4" fill="#4589c4"/>
<circle cx="926.2" cy="701.5" r="4" fill="#4589c4"/>
<circle cx="925.1" cy="712.3" r="4" fill="#4589c4"/>
<circle cx="927.3" cy="717.7" r="4" fill="#4589c4"/>
<circle cx="936.4" cy="716.6" r="4" fill="#4589c4"/>
<circle cx="935" cy="719.9" r="4" fill="#4589c4"/>
<circle cx="941.5" cy="722.1" r="4" fill="#4589c4"/>
<circle cx="929.5" cy="730.5" r="4" fill="#4589c4"/>
<circle cx="942.1" cy="732.2" r="4" fill="#4589c4"/>
<circle cx="934.4" cy="736.5" r="4" fill="#4589c4"/>
<circle cx="931.7" cy="741.6" r="4" fill="#4589c4"/>
<circle cx="628.2" cy="568.6" r="4" fill="#49a76f"/>
<circle cx="631.5" cy="574.5" r="4" fill="#49a76f"/>
<circle cx="615.4" cy="578.1" r="4" fill="#49a76f"/>
<circle cx="678" cy="594.2" r="4" fill="#49a76f"/>
<circle cx="681.5" cy="601.9" r="4" fill="#49a76f"/>
<circle cx="687.3" cy="627" r="4" fill="#49a76f"/>
<circle cx="689.5" cy="633.9" r="4" fill="#49a76f"/>
<circle cx="783.2" cy="563.5" r="4" fill="#49a76f"/>
<circle cx="788.4" cy="627.7" r="4" fill="#49a76f"/>
<circle cx="939.3" cy="721" r="4" fill="#49a76f"/>
<circle cx="928.4" cy="724.8" r="4" fill="#49a76f"/>
<circle cx="620.9" cy="571.2" r="4" fill="#7ac143"/>
<circle cx="617.3" cy="571" r="4" fill="#7ac143"/>
<circle cx="614.3" cy="572.7" r="4" fill="#7ac143"/>
<circle cx="623.9" cy="574.9" r="4" fill="#7ac143"/>
<circle cx="692.8" cy="592.4" r="4" fill="#7ac143"/>
<circle cx="706.4" cy="596.7" r="4" fill="#7ac143"/>
<circle cx="694.4" cy="599.5" r="4" fill="#7ac143"/>
<circle cx="708.1" cy="603.6" r="4" fill="#7ac143"/>
<circle cx="688.4" cy="606" r="4" fill="#7ac143"/>
<circle cx="712.8" cy="591.8" r="4" fill="#7ac143"/>
<circle cx="708.6" cy="613.7" r="4" fill="#7ac143"/>
<circle cx="710.8" cy="615.9" r="4" fill="#7ac143"/>
<circle cx="704.8" cy="619.2" r="4" fill="#7ac143"/>
<circle cx="679.1" cy="627.4" r="4" fill="#7ac143"/>
<circle cx="780.8" cy="565.7" r="4" fill="#7ac143"/>
<circle cx="768.2" cy="568.7" r="4" fill="#7ac143"/>
<circle cx="778.6" cy="573.4" r="4" fill="#7ac143"/>
<circle cx="770.9" cy="582.1" r="4" fill="#7ac143"/>
<circle cx="789.7" cy="618.1" r="4" fill="#7ac143"/>
<circle cx="690.9" cy="597.1" r="4" fill="#e8e25a"/>
<circle cx="705.1" cy="602.8" r="4" fill="#e8e25a"/>
<circle cx="698.6" cy="605.5" r="4" fill="#e8e25a"/>
<circle cx="713.3" cy="610.4" r="4" fill="#e8e25a"/>
<circle cx="699.9" cy="618.1" r="4" fill="#e8e25a"/>
<circle cx="710.8" cy="623.8" r="4" fill="#e8e25a"/>
<circle cx="775.8" cy="567.3" r="4" fill="#e8e25a"/>
<circle cx="773.7" cy="575.9" r="4" fill="#e8e25a"/>
<circle cx="720.6" cy="586.5" r="4" fill="#e8e25a"/>
<circle cx="748.8" cy="592" r="4" fill="#e8e25a"/>
<circle cx="691.7" cy="583.6" r="4" fill="#f8a641"/>
<circle cx="701" cy="586.9" r="4" fill="#f8a641"/>
<circle cx="703.2" cy="589.4" r="4" fill="#f8a641"/>
<circle cx="697.7" cy="594.5" r="4" fill="#f8a641"/>
<circle cx="715" cy="589.6" r="4" fill="#f8a641"/>
<circle cx="767.1" cy="573.4" r="4" fill="#f8a641"/>
<circle cx="754" cy="574.5" r="4" fill="#f8a641"/>
<circle cx="749.6" cy="576.6" r="4" fill="#f8a641"/>
<circle cx="757.2" cy="576.1" r="4" fill="#f8a641"/>
<circle cx="733.4" cy="577.2" r="4" fill="#f8a641"/>
<circle cx="762.2" cy="578.3" r="4" fill="#f8a641"/>
<circle cx="753.4" cy="579.9" r="4" fill="#f8a641"/>
<circle cx="763.3" cy="585.4" r="4" fill="#f8a641"/>
<circle cx="741.9" cy="586.5" r="4" fill="#f8a641"/>
<circle cx="725.5" cy="592" r="4" fill="#f8a641"/>
<circle cx="716.8" cy="580.9" r="4" fill="#f0642a"/>
<circle cx="756.7" cy="568.1" r="4" fill="#f0642a"/>
<circle cx="745.2" cy="567.3" r="4" fill="#f0642a"/>
<circle cx="744.1" cy="571.7" r="4" fill="#f0642a"/>
<circle cx="762.2" cy="572.3" r="4" fill="#f0642a"/>
<circle cx="743" cy="577.7" r="4" fill="#f0642a"/>
<circle cx="739.2" cy="578.3" r="4" fill="#f0642a"/>
<circle cx="733.7" cy="581.6" r="4" fill="#f0642a"/>
<circle cx="750.9" cy="584.8" r="4" fill="#f0642a"/>
<circle cx="730.5" cy="588.7" r="4" fill="#f0642a"/>
<circle cx="749.8" cy="606.4" r="4" fill="#f0642a"/>
<circle cx="733.7" cy="568.7" r="4" fill="#de3328"/>
<circle cx="729.9" cy="572.8" r="4" fill="#de3328"/>
<circle cx="719" cy="573.9" r="4" fill="#de3328"/>
<circle cx="728.3" cy="576.6" r="4" fill="#de3328"/>
<circle cx="737" cy="583.2" r="4" fill="#de3328"/>
<circle cx="721.2" cy="570.4" r="4" fill="#ba1a23"/>
<circle cx="722.8" cy="574.5" r="4" fill="#ba1a23"/>
<line x1="615.6" y1="524.3" x2="615.6" y2="532.5" stroke="#333" stroke-width="1"/>
<line x1="615.6" y1="860.1" x2="615.6" y2="868.5" stroke="#000" stroke-width="1" stroke-opacity=".85"/>
<line x1="656.43" y1="532.5" x2="656.43" y2="860.1" stroke="#000" stroke-width="1" stroke-opacity=".85"/>
<line x1="656.43" y1="524.3" x2="656.43" y2="532.5" stroke="#000" stroke-width="1" stroke-opacity=".85"/>
<line x1="656.43" y1="860.1" x2="656.43" y2="868.5" stroke="#000" stroke-width="1" stroke-opacity=".85"/>
<line x1="697.25" y1="532.5" x2="697.25" y2="860.1" stroke="#000" stroke-width="1" stroke-opacity=".85"/>
<line x1="697.25" y1="524.3" x2="697.25" y2="532.5" stroke="#000" stroke-width="1" stroke-opacity=".85"/>
<line x1="697.25" y1="860.1" x2="697.25" y2="868.5" stroke="#000" stroke-width="1" stroke-opacity=".85"/>
<line x1="738.08" y1="532.5" x2="738.08" y2="860.1" stroke="#000" stroke-width="1" stroke-opacity=".85"/>
<line x1="738.08" y1="524.3" x2="738.08" y2="532.5" stroke="#000" stroke-width="1" stroke-opacity=".85"/>
<line x1="738.08" y1="860.1" x2="738.08" y2="868.5" stroke="#000" stroke-width="1" stroke-opacity=".85"/>
<line x1="778.9" y1="532.5" x2="778.9" y2="860.1" stroke="#000" stroke-width="1" stroke-opacity=".85"/>
<line x1="778.9" y1="524.3" x2="778.9" y2="532.5" stroke="#000" stroke-width="1" stroke-opacity=".85"/>
<line x1="778.9" y1="860.1" x2="778.9" y2="868.5" stroke="#000" stroke-width="1" stroke-opacity=".85"/>
<line x1="819.73" y1="532.5" x2="819.73" y2="860.1" stroke="#000" stroke-width="1" stroke-opacity=".85"/>
<line x1="819.73" y1="524.3" x2="819.73" y2="532.5" stroke="#000" stroke-width="1" stroke-opacity=".85"/>
<line x1="819.73" y1="860.1" x2="819.73" y2="868.5" stroke="#000" stroke-width="1" stroke-opacity=".85"/>
<line x1="860.55" y1="532.5" x2="860.55" y2="860.1" stroke="#000" stroke-width="1" stroke-opacity=".85"/>
<line x1="860.55" y1="524.3" x2="860.55" y2="532.5" stroke="#000" stroke-width="1" stroke-opacity=".85"/>
<line x1="860.55" y1="860.1" x2="860.55" y2="868.5" stroke="#000" stroke-width="1" stroke-opacity=".85"/>
<line x1="901.38" y1="532.5" x2="901.38" y2="860.1" stroke="#000" stroke-width="1" stroke-opacity=".85"/>
<line x1="901.38" y1="524.3" x2="901.38" y2="532.5" stroke="#000" stroke-width="1" stroke-opacity=".85"/>
<line x1="901.38" y1="860.1" x2="901.38" y2="868.5" stroke="#000" stroke-width="1" stroke-opacity=".85"/>
<line x1="942.2" y1="524.3" x2="942.2" y2="532.5" stroke="#333" stroke-width="1"/>
<line x1="942.2" y1="860.1" x2="942.2" y2="868.5" stroke="#000" stroke-width="1" stroke-opacity=".85"/>
<line x1="606" y1="532.5" x2="950.6" y2="532.5" stroke="#000" stroke-width="1" stroke-opacity=".85"/>
<line x1="606" y1="614.4" x2="950.6" y2="614.4" stroke="#000" stroke-width="1" stroke-opacity=".85"/>
<line x1="606" y1="696.3" x2="950.6" y2="696.3" stroke="#000" stroke-width="1" stroke-opacity=".85"/>
<line x1="606" y1="778.2" x2="950.6" y2="778.2" stroke="#000" stroke-width="1" stroke-opacity=".85"/>
<line x1="606" y1="860.1" x2="950.6" y2="860.1" stroke="#000" stroke-width="1" stroke-opacity=".85"/>
<line x1="615" y1="532" x2="615" y2="860.7" stroke="#000" stroke-width="2"/>
<line x1="942" y1="532" x2="942" y2="860.7" stroke="#222" stroke-width="2"/>
<line x1="614" y1="532.5" x2="943" y2="532.5" stroke="#000" stroke-width="1.2"/>
<line x1="614" y1="860.1" x2="943" y2="860.1" stroke="#000" stroke-width="1.4"/>
<text x="595.9" y="538" font-size="14.9" text-anchor="end" fill="#000" >N</text>
<text x="595.9" y="619.9" font-size="14.9" text-anchor="end" fill="#000" >W</text>
<text x="595.9" y="701.8" font-size="14.9" text-anchor="end" fill="#000" >S</text>
<text x="595.9" y="783.7" font-size="14.9" text-anchor="end" fill="#000" >E</text>
<text x="595.9" y="865.6" font-size="14.9" text-anchor="end" fill="#000" >N</text>
<text x="615.6" y="889.9" font-size="14.9" text-anchor="middle" fill="#000" >0945</text>
<text x="697.25" y="889.9" font-size="14.9" text-anchor="middle" fill="#000" >1545</text>
<text x="778.9" y="889.9" font-size="14.9" text-anchor="middle" fill="#000" >2145</text>
<text x="860.55" y="889.9" font-size="14.9" text-anchor="middle" fill="#000" >0345</text>
<text x="942.2" y="889.9" font-size="14.9" text-anchor="middle" fill="#000" >0945</text>
<text x="697.07" y="505.3" font-size="25.3" letter-spacing="0.017" fill="#000">Wind Direction</text>
<text transform="translate(566.4,814.56) rotate(-90)" font-size="18.3" letter-spacing="0.021" fill="#000">Direction (Colored By Speed)</text>
<rect x="953.2" y="593.80" width="29.6" height="20.72" fill="#8f1419"/>
<rect x="953.2" y="614.22" width="29.6" height="20.72" fill="#ba1a23"/>
<rect x="953.2" y="634.64" width="29.6" height="20.72" fill="#de3328"/>
<rect x="953.2" y="655.06" width="29.6" height="20.72" fill="#f0642a"/>
<rect x="953.2" y="675.48" width="29.6" height="20.72" fill="#f8a641"/>
<rect x="953.2" y="695.90" width="29.6" height="20.72" fill="#e8e25a"/>
<rect x="953.2" y="716.32" width="29.6" height="20.72" fill="#7ac143"/>
<rect x="953.2" y="736.74" width="29.6" height="20.72" fill="#49a76f"/>
<rect x="953.2" y="757.16" width="29.6" height="20.72" fill="#4589c4"/>
<rect x="953.2" y="777.58" width="29.6" height="20.72" fill="#7cb8e4"/>
<rect x="953.2" y="798.00" width="29.6" height="20.72" fill="#b9e3f9"/>
<text x="1007.7" y="610.2" font-size="15.8" text-anchor="middle" fill="#000" >20+</text>
<text x="1007.7" y="630.62" font-size="15.8" text-anchor="middle" fill="#000" >18</text>
<text x="1007.7" y="651.04" font-size="15.8" text-anchor="middle" fill="#000" >16</text>
<text x="1007.7" y="671.46" font-size="15.8" text-anchor="middle" fill="#000" >14</text>
<text x="1007.7" y="691.88" font-size="15.8" text-anchor="middle" fill="#000" >12</text>
<text x="1007.7" y="712.3" font-size="15.8" text-anchor="middle" fill="#000" >10</text>
<text x="1007.7" y="732.72" font-size="15.8" text-anchor="middle" fill="#000" >8</text>
<text x="1007.7" y="753.14" font-size="15.8" text-anchor="middle" fill="#000" >6</text>
<text x="1007.7" y="773.56" font-size="15.8" text-anchor="middle" fill="#000" >4</text>
<text x="1007.7" y="793.98" font-size="15.8" text-anchor="middle" fill="#000" >2</text>
<text x="1007.7" y="814.4" font-size="15.8" text-anchor="middle" fill="#000" >0</text>
<text x="991.2" y="587.7" font-size="16.2" text-anchor="start" fill="#000" >mph</text>
</g>
<g id="foot">
<text x="19.00" y="922.4" font-size="16.2" letter-spacing="0.327" fill="#000">Location: Belmont</text>
<text x="19.57" y="942.35" font-size="16.2" letter-spacing="0.325" fill="#000">Station elevation: 417.576 m</text>
<text x="19.57" y="962.3" font-size="16.2" letter-spacing="0.308" fill="#000">Station lat/lon: 42.2425; -78.0396</text>
<text x="19.00" y="982.25" font-size="16.2" letter-spacing="0.370" fill="#000">Figure created on Wed, 2025-11-05, at 09:48 UTC</text>
<text x="19.00" y="1002.2" font-size="16.2" letter-spacing="0.351" fill="#000">Most recent data timestamp: 2025/11/05 09:45:00</text>
<text x="772.42" y="932.9" font-size="17.2" letter-spacing="0.600" fill="#000">Extremes For Past 24 Hours</text>
<text x="619.07" y="956.4" font-size="17.2" letter-spacing="0.547" fill="#000">(High/Low/Max Wind/Precipitation/Snow Depth)</text>
<text x="829.89" y="981.3" font-size="17.0" letter-spacing="0.646" fill="#c1222b" font-weight="bold">56.2/38.2/18.2/0/-999</text>
<text x="677.40" y="1002.4" font-size="16.3" letter-spacing="0.341" fill="#000">Max Gust: 31.9 mph On 11/04 at 1805 UTC</text>
<text x="302.60" y="1019.5" font-size="14.0" letter-spacing="0.035" fill="#7f7f7f">Created By Nick Bassill Using Data Provided By The NYS Mesonet</text>
</g>
</svg></body></html>
